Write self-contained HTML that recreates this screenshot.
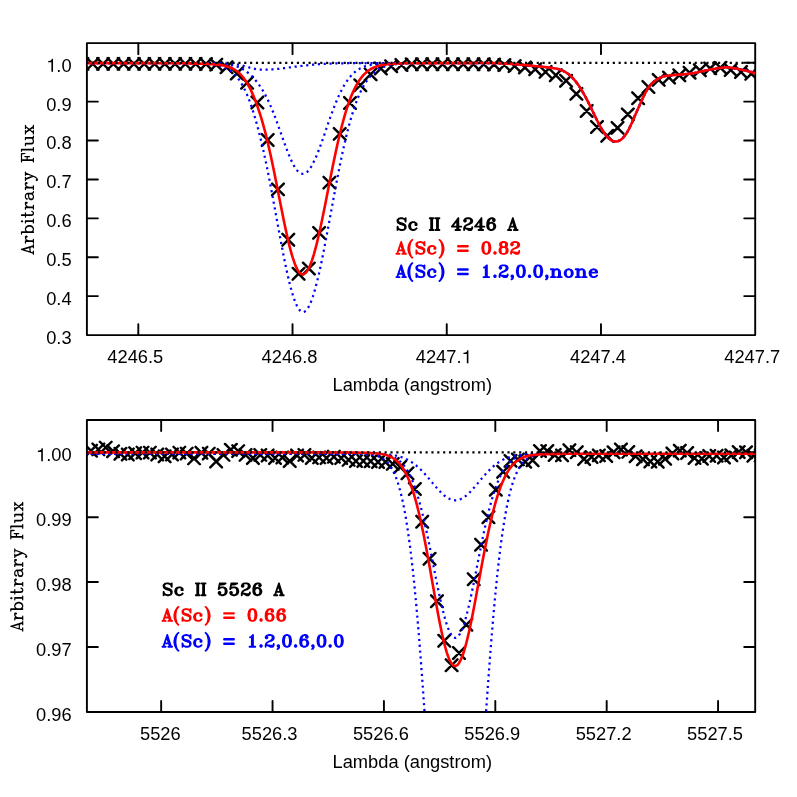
<!DOCTYPE html>
<html><head><meta charset="utf-8"><title>Sc II line fits</title>
<style>html,body{margin:0;padding:0;background:#fff}body{width:797px;height:797px;overflow:hidden}</style>
</head><body>
<svg width="797" height="797" viewBox="0 0 797 797" style="display:block;will-change:transform;font-family:'Liberation Sans',sans-serif;font-size:18.30px" fill="#000">
<rect width="797" height="797" fill="#fff"/>
<rect x="86.90" y="43.15" width="668.30" height="291.95" fill="none" stroke="#000" stroke-width="1.90" stroke-linejoin="round"/>
<path d="M138.31 335.10 V324.10 M138.31 43.15 V54.15 M292.53 335.10 V324.10 M292.53 43.15 V54.15 M446.75 335.10 V324.10 M446.75 43.15 V54.15 M600.98 335.10 V324.10 M600.98 43.15 V54.15 M86.90 296.11 H97.90 M755.20 296.11 H744.20 M86.90 257.22 H97.90 M755.20 257.22 H744.20 M86.90 218.33 H97.90 M755.20 218.33 H744.20 M86.90 179.44 H97.90 M755.20 179.44 H744.20 M86.90 140.55 H97.90 M755.20 140.55 H744.20 M86.90 101.66 H97.90 M755.20 101.66 H744.20 M86.90 62.77 H97.90 M755.20 62.77 H744.20" stroke="#000" stroke-width="1.90" stroke-linecap="round" fill="none"/>
<clipPath id="c1"><rect x="86.90" y="43.15" width="668.30" height="291.95"/></clipPath>
<g clip-path="url(#c1)">
<path d="M76.61 58.05 L88.31 69.75 M76.61 69.75 L88.31 58.05 M86.90 58.05 L98.60 69.75 M86.90 69.75 L98.60 58.05 M97.19 58.05 L108.89 69.75 M97.19 69.75 L108.89 58.05 M107.48 58.05 L119.18 69.75 M107.48 69.75 L119.18 58.05 M117.77 58.05 L129.47 69.75 M117.77 69.75 L129.47 58.05 M128.06 58.05 L139.76 69.75 M128.06 69.75 L139.76 58.05 M138.35 58.05 L150.05 69.75 M138.35 69.75 L150.05 58.05 M148.64 58.05 L160.34 69.75 M148.64 69.75 L160.34 58.05 M158.93 58.05 L170.63 69.75 M158.93 69.75 L170.63 58.05 M169.22 58.05 L180.92 69.75 M169.22 69.75 L180.92 58.05 M179.51 58.05 L191.21 69.75 M179.51 69.75 L191.21 58.05 M189.80 58.05 L201.50 69.75 M189.80 69.75 L201.50 58.05 M200.09 58.15 L211.79 69.85 M200.09 69.85 L211.79 58.15 M210.38 58.77 L222.08 70.47 M210.38 70.47 L222.08 58.77 M220.67 61.36 L232.37 73.06 M220.67 73.06 L232.37 61.36 M230.96 67.66 L242.66 79.36 M230.96 79.36 L242.66 67.66 M241.25 76.85 L252.95 88.55 M241.25 88.55 L252.95 76.85 M251.54 96.67 L263.24 108.37 M251.54 108.37 L263.24 96.67 M261.83 134.15 L273.53 145.85 M261.83 145.85 L273.53 134.15 M272.12 183.52 L283.82 195.22 M272.12 195.22 L283.82 183.52 M282.41 233.89 L294.11 245.59 M282.41 245.59 L294.11 233.89 M292.70 267.95 L304.40 279.65 M292.70 279.65 L304.40 267.95 M302.99 262.72 L314.69 274.42 M302.99 274.42 L314.69 262.72 M313.28 227.03 L324.98 238.73 M313.28 238.73 L324.98 227.03 M323.57 176.77 L335.27 188.47 M323.57 188.47 L335.27 176.77 M333.86 128.03 L345.56 139.73 M333.86 139.73 L345.56 128.03 M344.15 97.07 L355.85 108.77 M344.15 108.77 L355.85 97.07 M354.44 79.49 L366.14 91.19 M354.44 91.19 L366.14 79.49 M364.73 68.50 L376.43 80.20 M364.73 80.20 L376.43 68.50 M375.02 62.62 L386.72 74.32 M375.02 74.32 L386.72 62.62 M385.31 60.35 L397.01 72.05 M385.31 72.05 L397.01 60.35 M395.60 59.07 L407.30 70.77 M395.60 70.77 L407.30 59.07 M405.89 58.47 L417.59 70.17 M405.89 70.17 L417.59 58.47 M416.18 58.39 L427.88 70.09 M416.18 70.09 L427.88 58.39 M426.47 58.36 L438.17 70.06 M426.47 70.06 L438.17 58.36 M436.76 58.35 L448.46 70.05 M436.76 70.05 L448.46 58.35 M447.05 58.35 L458.75 70.05 M447.05 70.05 L458.75 58.35 M457.34 58.35 L469.04 70.05 M457.34 70.05 L469.04 58.35 M467.63 58.32 L479.33 70.02 M467.63 70.02 L479.33 58.32 M477.92 58.41 L489.62 70.11 M477.92 70.11 L489.62 58.41 M488.21 58.71 L499.91 70.41 M488.21 70.41 L499.91 58.71 M498.50 59.18 L510.20 70.88 M498.50 70.88 L510.20 59.18 M508.79 60.24 L520.49 71.94 M508.79 71.94 L520.49 60.24 M519.08 61.60 L530.78 73.30 M519.08 73.30 L530.78 61.60 M529.37 63.31 L541.07 75.01 M529.37 75.01 L541.07 63.31 M539.66 66.05 L551.36 77.75 M539.66 77.75 L551.36 66.05 M549.95 69.41 L561.65 81.11 M549.95 81.11 L561.65 69.41 M560.24 74.94 L571.94 86.64 M560.24 86.64 L571.94 74.94 M570.53 88.03 L582.23 99.73 M570.53 99.73 L582.23 88.03 M580.82 105.11 L592.52 116.81 M580.82 116.81 L592.52 105.11 M591.11 121.13 L602.81 132.83 M591.11 132.83 L602.81 121.13 M601.40 129.95 L613.10 141.65 M601.40 141.65 L613.10 129.95 M611.69 122.02 L623.39 133.72 M611.69 133.72 L623.39 122.02 M621.98 108.52 L633.68 120.22 M621.98 120.22 L633.68 108.52 M632.27 92.33 L643.97 104.03 M632.27 104.03 L643.97 92.33 M642.56 81.12 L654.26 92.82 M642.56 92.82 L654.26 81.12 M652.85 74.02 L664.55 85.72 M652.85 85.72 L664.55 74.02 M663.14 71.73 L674.84 83.43 M663.14 83.43 L674.84 71.73 M673.43 69.44 L685.13 81.14 M673.43 81.14 L685.13 69.44 M683.72 66.81 L695.42 78.51 M683.72 78.51 L695.42 66.81 M694.01 64.38 L705.71 76.08 M694.01 76.08 L705.71 64.38 M704.30 62.54 L716.00 74.24 M704.30 74.24 L716.00 62.54 M714.59 61.96 L726.29 73.66 M714.59 73.66 L726.29 61.96 M724.88 64.10 L736.58 75.80 M724.88 75.80 L736.58 64.10 M735.17 66.15 L746.87 77.85 M735.17 77.85 L746.87 66.15 M745.46 68.00 L757.16 79.70 M745.46 79.70 L757.16 68.00" stroke="#000" stroke-width="2.45" stroke-linecap="round" fill="none"/>
<path d="M84.9 63.1 85.9 63.1 86.9 63.1 87.9 63.1 88.9 63.1 89.9 63.1 90.9 63.1 91.9 63.1 92.9 63.1 93.9 63.1 94.9 63.1 95.9 63.1 96.9 63.1 97.9 63.1 98.9 63.1 99.9 63.1 100.9 63.1 101.9 63.1 102.9 63.1 103.9 63.1 104.9 63.1 105.9 63.1 106.9 63.1 107.9 63.1 108.9 63.1 109.9 63.1 110.9 63.1 111.9 63.1 112.9 63.1 113.9 63.1 114.9 63.1 115.9 63.1 116.9 63.1 117.9 63.1 118.9 63.1 119.9 63.1 120.9 63.1 121.9 63.1 122.9 63.1 123.9 63.1 124.9 63.1 125.9 63.1 126.9 63.1 127.9 63.1 128.9 63.1 129.9 63.1 130.9 63.1 131.9 63.1 132.9 63.1 133.9 63.1 134.9 63.1 135.9 63.1 136.9 63.1 137.9 63.1 138.9 63.1 139.9 63.1 140.9 63.1 141.9 63.1 142.9 63.1 143.9 63.1 144.9 63.1 145.9 63.1 146.9 63.1 147.9 63.1 148.9 63.1 149.9 63.1 150.9 63.1 151.9 63.1 152.9 63.1 153.9 63.1 154.9 63.1 155.9 63.1 156.9 63.2 157.9 63.2 158.9 63.2 159.9 63.2 160.9 63.2 161.9 63.2 162.9 63.2 163.9 63.2 164.9 63.2 165.9 63.2 166.9 63.2 167.9 63.2 168.9 63.2 169.9 63.2 170.9 63.2 171.9 63.2 172.9 63.2 173.9 63.2 174.9 63.2 175.9 63.2 176.9 63.2 177.9 63.3 178.9 63.3 179.9 63.3 180.9 63.3 181.9 63.3 182.9 63.3 183.9 63.3 184.9 63.3 185.9 63.4 186.9 63.4 187.9 63.4 188.9 63.4 189.9 63.4 190.9 63.4 191.9 63.5 192.9 63.5 193.9 63.5 194.9 63.5 195.9 63.6 196.9 63.6 197.9 63.6 198.9 63.7 199.9 63.7 200.9 63.8 201.9 63.8 202.9 63.9 203.9 63.9 204.9 64.0 205.9 64.1 206.9 64.1 207.9 64.2 208.9 64.3 209.9 64.4 210.9 64.5 211.9 64.6 212.9 64.7 213.9 64.9 214.9 65.0 215.9 65.2 216.9 65.4 217.9 65.6 218.9 65.8 219.9 66.1 220.9 66.3 221.9 66.7 222.9 67.0 223.9 67.4 224.9 67.8 225.9 68.2 226.9 68.7 227.9 69.2 228.9 69.8 229.9 70.5 230.9 71.2 231.9 71.9 232.9 72.8 233.9 73.7 234.9 74.7 235.9 75.7 236.9 76.9 237.9 78.1 238.9 79.5 239.9 81.0 240.9 82.5 241.9 84.2 242.9 86.0 243.9 87.9 244.9 89.9 245.9 92.1 246.9 94.4 247.9 96.8 248.9 99.3 249.9 102.0 250.9 104.8 251.9 107.7 252.9 110.8 253.9 114.0 254.9 117.3 255.9 120.8 256.9 124.4 257.9 128.1 258.9 131.9 259.9 135.9 260.9 139.9 261.9 144.1 262.9 148.4 263.9 152.9 264.9 157.5 265.9 162.2 266.9 167.0 267.9 172.0 268.9 177.0 269.9 182.1 270.9 187.4 271.9 192.7 272.9 198.0 273.9 203.5 274.9 208.9 275.9 214.4 276.9 219.9 277.9 225.3 278.9 230.8 279.9 236.2 280.9 241.6 281.9 246.9 282.9 252.1 283.9 257.2 284.9 262.1 285.9 267.0 286.9 271.6 287.9 276.1 288.9 280.4 289.9 284.5 290.9 288.3 291.9 291.9 292.9 295.3 293.9 298.4 294.9 301.1 295.9 303.6 296.9 305.8 297.9 307.7 298.9 309.2 299.9 310.5 300.9 311.3 301.9 311.9 302.9 312.1 303.9 311.9 304.9 311.4 305.9 310.7 306.9 309.5 307.9 308.1 308.9 306.4 309.9 304.3 310.9 302.0 311.9 299.4 312.9 296.5 313.9 293.3 314.9 289.9 315.9 286.2 316.9 282.3 317.9 278.2 318.9 273.9 319.9 269.5 320.9 264.8 321.9 260.0 322.9 255.1 323.9 250.0 324.9 244.8 325.9 239.6 326.9 234.2 327.9 228.8 328.9 223.4 329.9 218.0 330.9 212.5 331.9 207.1 332.9 201.6 333.9 196.2 334.9 190.9 335.9 185.6 336.9 180.3 337.9 175.2 338.9 170.1 339.9 165.1 340.9 160.3 341.9 155.5 342.9 150.9 343.9 146.4 344.9 142.0 345.9 137.7 346.9 133.6 347.9 129.7 348.9 125.8 349.9 122.2 350.9 118.6 351.9 115.2 352.9 112.0 353.9 108.9 354.9 105.9 355.9 103.1 356.9 100.5 357.9 97.9 358.9 95.5 359.9 93.2 360.9 91.1 361.9 89.0 362.9 87.1 363.9 85.3 364.9 83.6 365.9 82.1 366.9 80.6 367.9 79.2 368.9 77.9 369.9 76.7 370.9 75.6 371.9 74.5 372.9 73.6 373.9 72.7 374.9 71.9 375.9 71.1 376.9 70.4 377.9 69.7 378.9 69.1 379.9 68.6 380.9 68.1 381.9 67.6 382.9 67.2 383.9 66.8 384.9 66.5 385.9 66.1 386.9 65.8 387.9 65.6 388.9 65.3 389.9 65.1 390.9 64.9 391.9 64.7 392.9 64.6 393.9 64.4 394.9 64.3 395.9 64.2 396.9 64.1 397.9 64.0 398.9 63.9 399.9 63.8 400.9 63.7 401.9 63.7 402.9 63.6 403.9 63.5 404.9 63.5 405.9 63.5 406.9 63.4 407.9 63.4 408.9 63.4 409.9 63.3 410.9 63.3 411.9 63.3 412.9 63.3 413.9 63.3 414.9 63.2 415.9 63.2 416.9 63.2 417.9 63.2 418.9 63.2 419.9 63.2 420.9 63.2 421.9 63.2 422.9 63.2 423.9 63.2 424.9 63.2 425.9 63.2 426.9 63.1 427.9 63.1 428.9 63.1 429.9 63.1 430.9 63.1 431.9 63.1 432.9 63.1 433.9 63.1 434.9 63.1 435.9 63.1 436.9 63.1 437.9 63.1 438.9 63.1 439.9 63.1 440.9 63.1 441.9 63.1 442.9 63.1 443.9 63.1 444.9 63.1 445.9 63.1 446.9 63.1 447.9 63.1 448.9 63.1 449.9 63.1 450.9 63.1 451.9 63.1 452.9 63.1 453.9 63.1 454.9 63.1 455.9 63.1 456.9 63.1 457.9 63.1 458.9 63.1 459.9 63.1 460.9 63.1 461.9 63.1 462.9 63.1 463.9 63.1 464.9 63.1 465.9 63.1 466.9 63.1 467.9 63.1 468.9 63.1 469.9 63.1 470.9 63.1 471.9 63.1 472.9 63.1 473.9 63.0 474.9 63.0 475.9 63.0 476.9 63.0 477.9 63.0 478.9 63.0 479.9 63.0 480.9 63.0 481.9 63.0 482.9 63.0 483.9 63.0 484.9 63.0 485.9 63.0 486.9 63.0 487.9 63.0 488.9 63.0 489.9 63.0 490.9 63.1 491.9 63.1 492.9 63.1 493.9 63.1 494.9 63.1 495.9 63.2 496.9 63.2 497.9 63.2 498.9 63.3 499.9 63.3 500.9 63.4 501.9 63.4 502.9 63.4 503.9 63.5 504.9 63.5 505.9 63.6 506.9 63.7 507.9 63.7 508.9 63.8 509.9 63.8 510.9 63.9 511.9 64.0 512.9 64.0 513.9 64.1 514.9 64.2 515.9 64.3 516.9 64.4 517.9 64.4 518.9 64.5 519.9 64.6 520.9 64.7 521.9 64.8 522.9 64.9 523.9 65.0 524.9 65.1 525.9 65.2 526.9 65.3 527.9 65.4 528.9 65.5 529.9 65.6 530.9 65.7 531.9 65.8 532.9 65.9 533.9 66.0 534.9 66.1 535.9 66.2 536.9 66.3 537.9 66.4 538.9 66.5 539.9 66.6 540.9 66.7 541.9 66.7 542.9 66.8 543.9 66.9 544.9 67.0 545.9 67.1 546.9 67.2 547.9 67.4 548.9 67.5 549.9 67.6 550.9 67.7 551.9 67.9 552.9 68.0 553.9 68.2 554.9 68.4 555.9 68.6 556.9 68.8 557.9 69.0 558.9 69.3 559.9 69.6 560.9 70.0 561.9 70.4 562.9 70.8 563.9 71.3 564.9 71.8 565.9 72.4 566.9 73.0 567.9 73.7 568.9 74.5 569.9 75.3 570.9 76.2 571.9 77.1 572.9 78.2 573.9 79.3 574.9 80.5 575.9 81.7 576.9 83.0 577.9 84.4 578.9 85.9 579.9 87.4 580.9 89.0 581.9 90.6 582.9 92.3 583.9 94.1 584.9 95.9 585.9 97.7 586.9 99.7 587.9 101.6 588.9 103.6 589.9 105.6 590.9 107.6 591.9 109.7 592.9 111.8 593.9 113.8 594.9 115.9 595.9 118.0 596.9 120.0 597.9 122.0 598.9 123.9 599.9 125.8 600.9 127.6 601.9 129.3 602.9 131.0 603.9 132.5 604.9 134.0 605.9 135.3 606.9 136.5 607.9 137.5 608.9 138.5 609.9 139.3 610.9 140.0 611.9 140.5 612.9 141.0 613.9 141.2 614.9 141.4 615.9 141.5 616.9 141.4 617.9 141.2 618.9 140.8 619.9 140.3 620.9 139.7 621.9 138.9 622.9 137.9 623.9 136.8 624.9 135.6 625.9 134.2 626.9 132.6 627.9 130.9 628.9 129.1 629.9 127.1 630.9 125.0 631.9 122.8 632.9 120.5 633.9 118.2 634.9 115.8 635.9 113.5 636.9 111.2 637.9 109.0 638.9 106.8 639.9 104.5 640.9 102.3 641.9 100.1 642.9 97.9 643.9 95.8 644.9 93.7 645.9 91.8 646.9 90.1 647.9 88.5 648.9 87.1 649.9 85.8 650.9 84.7 651.9 83.6 652.9 82.7 653.9 81.8 654.9 81.0 655.9 80.3 656.9 79.6 657.9 78.9 658.9 78.4 659.9 77.8 660.9 77.4 661.9 77.0 662.9 76.6 663.9 76.3 664.9 76.1 665.9 75.9 666.9 75.7 667.9 75.6 668.9 75.5 669.9 75.4 670.9 75.3 671.9 75.2 672.9 75.1 673.9 75.1 674.9 75.0 675.9 74.9 676.9 74.8 677.9 74.8 678.9 74.7 679.9 74.6 680.9 74.5 681.9 74.4 682.9 74.4 683.9 74.3 684.9 74.2 685.9 74.1 686.9 74.0 687.9 73.9 688.9 73.8 689.9 73.6 690.9 73.5 691.9 73.4 692.9 73.2 693.9 73.1 694.9 72.9 695.9 72.7 696.9 72.5 697.9 72.3 698.9 72.0 699.9 71.8 700.9 71.6 701.9 71.3 702.9 71.1 703.9 70.9 704.9 70.6 705.9 70.4 706.9 70.2 707.9 70.0 708.9 69.8 709.9 69.6 710.9 69.4 711.9 69.2 712.9 69.0 713.9 68.9 714.9 68.7 715.9 68.6 716.9 68.4 717.9 68.3 718.9 68.1 719.9 68.0 720.9 67.8 721.9 67.7 722.9 67.6 723.9 67.5 724.9 67.4 725.9 67.4 726.9 67.4 727.9 67.5 728.9 67.5 729.9 67.6 730.9 67.8 731.9 67.9 732.9 68.1 733.9 68.2 734.9 68.4 735.9 68.6 736.9 68.8 737.9 69.0 738.9 69.2 739.9 69.4 740.9 69.6 741.9 69.8 742.9 70.1 743.9 70.3 744.9 70.5 745.9 70.7 746.9 71.0 747.9 71.2 748.9 71.4 749.9 71.7 750.9 71.9 751.9 72.2 752.9 72.4 753.9 72.7 754.9 72.9 755.9 73.2 756.9 73.5" stroke="#0000ff" stroke-width="2.25" stroke-dasharray="2.15 3.7" stroke-linejoin="round" fill="none"/>
<path d="M84.9 63.1 85.9 63.1 86.9 63.1 87.9 63.1 88.9 63.1 89.9 63.1 90.9 63.1 91.9 63.1 92.9 63.1 93.9 63.1 94.9 63.1 95.9 63.1 96.9 63.1 97.9 63.1 98.9 63.1 99.9 63.1 100.9 63.1 101.9 63.1 102.9 63.1 103.9 63.1 104.9 63.1 105.9 63.1 106.9 63.1 107.9 63.1 108.9 63.1 109.9 63.1 110.9 63.1 111.9 63.1 112.9 63.1 113.9 63.1 114.9 63.1 115.9 63.1 116.9 63.1 117.9 63.1 118.9 63.1 119.9 63.1 120.9 63.1 121.9 63.1 122.9 63.1 123.9 63.1 124.9 63.1 125.9 63.1 126.9 63.1 127.9 63.1 128.9 63.1 129.9 63.1 130.9 63.1 131.9 63.1 132.9 63.1 133.9 63.1 134.9 63.1 135.9 63.1 136.9 63.1 137.9 63.1 138.9 63.1 139.9 63.1 140.9 63.1 141.9 63.1 142.9 63.1 143.9 63.1 144.9 63.1 145.9 63.1 146.9 63.1 147.9 63.1 148.9 63.1 149.9 63.1 150.9 63.1 151.9 63.1 152.9 63.1 153.9 63.1 154.9 63.1 155.9 63.1 156.9 63.1 157.9 63.1 158.9 63.1 159.9 63.1 160.9 63.1 161.9 63.1 162.9 63.1 163.9 63.1 164.9 63.1 165.9 63.1 166.9 63.1 167.9 63.1 168.9 63.1 169.9 63.2 170.9 63.2 171.9 63.2 172.9 63.2 173.9 63.2 174.9 63.2 175.9 63.2 176.9 63.2 177.9 63.2 178.9 63.2 179.9 63.2 180.9 63.2 181.9 63.2 182.9 63.2 183.9 63.2 184.9 63.2 185.9 63.2 186.9 63.2 187.9 63.2 188.9 63.2 189.9 63.2 190.9 63.2 191.9 63.2 192.9 63.3 193.9 63.3 194.9 63.3 195.9 63.3 196.9 63.3 197.9 63.3 198.9 63.3 199.9 63.3 200.9 63.3 201.9 63.3 202.9 63.4 203.9 63.4 204.9 63.4 205.9 63.4 206.9 63.4 207.9 63.4 208.9 63.4 209.9 63.5 210.9 63.5 211.9 63.5 212.9 63.5 213.9 63.6 214.9 63.6 215.9 63.6 216.9 63.7 217.9 63.7 218.9 63.7 219.9 63.8 220.9 63.8 221.9 63.9 222.9 64.0 223.9 64.0 224.9 64.1 225.9 64.2 226.9 64.3 227.9 64.4 228.9 64.6 229.9 64.7 230.9 64.9 231.9 65.1 232.9 65.3 233.9 65.6 234.9 65.8 235.9 66.1 236.9 66.5 237.9 66.8 238.9 67.2 239.9 67.7 240.9 68.1 241.9 68.6 242.9 69.2 243.9 69.8 244.9 70.5 245.9 71.1 246.9 71.9 247.9 72.7 248.9 73.5 249.9 74.4 250.9 75.3 251.9 76.3 252.9 77.4 253.9 78.4 254.9 79.6 255.9 80.8 256.9 82.0 257.9 83.3 258.9 84.7 259.9 86.1 260.9 87.5 261.9 89.1 262.9 90.7 263.9 92.3 264.9 94.1 265.9 96.0 266.9 97.9 267.9 100.0 268.9 102.1 269.9 104.3 270.9 106.6 271.9 109.0 272.9 111.5 273.9 114.0 274.9 116.6 275.9 119.3 276.9 122.0 277.9 124.8 278.9 127.6 279.9 130.4 280.9 133.2 281.9 136.1 282.9 138.9 283.9 141.7 284.9 144.5 285.9 147.2 286.9 149.8 287.9 152.4 288.9 154.9 289.9 157.3 290.9 159.6 291.9 161.7 292.9 163.8 293.9 165.6 294.9 167.3 295.9 168.8 296.9 170.1 297.9 171.3 298.9 172.2 299.9 172.9 300.9 173.4 301.9 173.7 302.9 173.8 303.9 173.7 304.9 173.3 305.9 172.8 306.9 172.1 307.9 171.1 308.9 170.0 309.9 168.6 310.9 167.1 311.9 165.5 312.9 163.6 313.9 161.6 314.9 159.5 315.9 157.3 316.9 154.9 317.9 152.4 318.9 149.8 319.9 147.1 320.9 144.4 321.9 141.6 322.9 138.7 323.9 135.9 324.9 133.0 325.9 130.0 326.9 127.1 327.9 124.2 328.9 121.4 329.9 118.5 330.9 115.7 331.9 113.0 332.9 110.3 333.9 107.6 334.9 105.1 335.9 102.6 336.9 100.2 337.9 97.9 338.9 95.6 339.9 93.5 340.9 91.4 341.9 89.5 342.9 87.6 343.9 85.8 344.9 84.2 345.9 82.6 346.9 81.1 347.9 79.7 348.9 78.3 349.9 77.1 350.9 75.9 351.9 74.8 352.9 73.8 353.9 72.9 354.9 72.0 355.9 71.2 356.9 70.5 357.9 69.8 358.9 69.2 359.9 68.6 360.9 68.1 361.9 67.6 362.9 67.2 363.9 66.8 364.9 66.4 365.9 66.1 366.9 65.8 367.9 65.5 368.9 65.3 369.9 65.1 370.9 64.9 371.9 64.7 372.9 64.5 373.9 64.4 374.9 64.3 375.9 64.1 376.9 64.0 377.9 63.9 378.9 63.9 379.9 63.8 380.9 63.7 381.9 63.7 382.9 63.6 383.9 63.6 384.9 63.5 385.9 63.5 386.9 63.4 387.9 63.4 388.9 63.4 389.9 63.4 390.9 63.3 391.9 63.3 392.9 63.3 393.9 63.3 394.9 63.3 395.9 63.3 396.9 63.2 397.9 63.2 398.9 63.2 399.9 63.2 400.9 63.2 401.9 63.2 402.9 63.2 403.9 63.2 404.9 63.2 405.9 63.2 406.9 63.2 407.9 63.2 408.9 63.2 409.9 63.2 410.9 63.2 411.9 63.2 412.9 63.2 413.9 63.1 414.9 63.1 415.9 63.1 416.9 63.1 417.9 63.1 418.9 63.1 419.9 63.1 420.9 63.1 421.9 63.1 422.9 63.1 423.9 63.1 424.9 63.1 425.9 63.1 426.9 63.1 427.9 63.1 428.9 63.1 429.9 63.1 430.9 63.1 431.9 63.1 432.9 63.1 433.9 63.1 434.9 63.1 435.9 63.1 436.9 63.1 437.9 63.1 438.9 63.1 439.9 63.1 440.9 63.1 441.9 63.1 442.9 63.1 443.9 63.1 444.9 63.1 445.9 63.1 446.9 63.1 447.9 63.1 448.9 63.1 449.9 63.1 450.9 63.1 451.9 63.1 452.9 63.1 453.9 63.1 454.9 63.1 455.9 63.1 456.9 63.1 457.9 63.1 458.9 63.1 459.9 63.1 460.9 63.1 461.9 63.1 462.9 63.1 463.9 63.1 464.9 63.1 465.9 63.1 466.9 63.1 467.9 63.1 468.9 63.1 469.9 63.1 470.9 63.1 471.9 63.1 472.9 63.1 473.9 63.0 474.9 63.0 475.9 63.0 476.9 63.0 477.9 63.0 478.9 63.0 479.9 63.0 480.9 63.0 481.9 63.0 482.9 63.0 483.9 63.0 484.9 63.0 485.9 63.0 486.9 63.0 487.9 63.0 488.9 63.0 489.9 63.0 490.9 63.1 491.9 63.1 492.9 63.1 493.9 63.1 494.9 63.1 495.9 63.2 496.9 63.2 497.9 63.2 498.9 63.3 499.9 63.3 500.9 63.4 501.9 63.4 502.9 63.4 503.9 63.5 504.9 63.5 505.9 63.6 506.9 63.7 507.9 63.7 508.9 63.8 509.9 63.8 510.9 63.9 511.9 64.0 512.9 64.0 513.9 64.1 514.9 64.2 515.9 64.3 516.9 64.4 517.9 64.4 518.9 64.5 519.9 64.6 520.9 64.7 521.9 64.8 522.9 64.9 523.9 65.0 524.9 65.1 525.9 65.2 526.9 65.3 527.9 65.4 528.9 65.5 529.9 65.6 530.9 65.7 531.9 65.8 532.9 65.9 533.9 66.0 534.9 66.1 535.9 66.2 536.9 66.3 537.9 66.4 538.9 66.5 539.9 66.6 540.9 66.7 541.9 66.7 542.9 66.8 543.9 66.9 544.9 67.0 545.9 67.1 546.9 67.2 547.9 67.4 548.9 67.5 549.9 67.6 550.9 67.7 551.9 67.9 552.9 68.0 553.9 68.2 554.9 68.4 555.9 68.6 556.9 68.8 557.9 69.0 558.9 69.3 559.9 69.6 560.9 70.0 561.9 70.4 562.9 70.8 563.9 71.3 564.9 71.8 565.9 72.4 566.9 73.0 567.9 73.7 568.9 74.5 569.9 75.3 570.9 76.2 571.9 77.1 572.9 78.2 573.9 79.3 574.9 80.5 575.9 81.7 576.9 83.0 577.9 84.4 578.9 85.9 579.9 87.4 580.9 89.0 581.9 90.6 582.9 92.3 583.9 94.1 584.9 95.9 585.9 97.7 586.9 99.7 587.9 101.6 588.9 103.6 589.9 105.6 590.9 107.6 591.9 109.7 592.9 111.8 593.9 113.8 594.9 115.9 595.9 118.0 596.9 120.0 597.9 122.0 598.9 123.9 599.9 125.8 600.9 127.6 601.9 129.3 602.9 131.0 603.9 132.5 604.9 134.0 605.9 135.3 606.9 136.5 607.9 137.5 608.9 138.5 609.9 139.3 610.9 140.0 611.9 140.5 612.9 141.0 613.9 141.2 614.9 141.4 615.9 141.5 616.9 141.4 617.9 141.2 618.9 140.8 619.9 140.3 620.9 139.7 621.9 138.9 622.9 137.9 623.9 136.8 624.9 135.6 625.9 134.2 626.9 132.6 627.9 130.9 628.9 129.1 629.9 127.1 630.9 125.0 631.9 122.8 632.9 120.5 633.9 118.2 634.9 115.8 635.9 113.5 636.9 111.2 637.9 109.0 638.9 106.8 639.9 104.5 640.9 102.3 641.9 100.1 642.9 97.9 643.9 95.8 644.9 93.7 645.9 91.8 646.9 90.1 647.9 88.5 648.9 87.1 649.9 85.8 650.9 84.7 651.9 83.6 652.9 82.7 653.9 81.8 654.9 81.0 655.9 80.3 656.9 79.6 657.9 78.9 658.9 78.4 659.9 77.8 660.9 77.4 661.9 77.0 662.9 76.6 663.9 76.3 664.9 76.1 665.9 75.9 666.9 75.7 667.9 75.6 668.9 75.5 669.9 75.4 670.9 75.3 671.9 75.2 672.9 75.1 673.9 75.1 674.9 75.0 675.9 74.9 676.9 74.8 677.9 74.8 678.9 74.7 679.9 74.6 680.9 74.5 681.9 74.4 682.9 74.4 683.9 74.3 684.9 74.2 685.9 74.1 686.9 74.0 687.9 73.9 688.9 73.8 689.9 73.6 690.9 73.5 691.9 73.4 692.9 73.2 693.9 73.1 694.9 72.9 695.9 72.7 696.9 72.5 697.9 72.3 698.9 72.0 699.9 71.8 700.9 71.6 701.9 71.3 702.9 71.1 703.9 70.9 704.9 70.6 705.9 70.4 706.9 70.2 707.9 70.0 708.9 69.8 709.9 69.6 710.9 69.4 711.9 69.2 712.9 69.0 713.9 68.9 714.9 68.7 715.9 68.6 716.9 68.4 717.9 68.3 718.9 68.1 719.9 68.0 720.9 67.8 721.9 67.7 722.9 67.6 723.9 67.5 724.9 67.4 725.9 67.4 726.9 67.4 727.9 67.5 728.9 67.5 729.9 67.6 730.9 67.8 731.9 67.9 732.9 68.1 733.9 68.2 734.9 68.4 735.9 68.6 736.9 68.8 737.9 69.0 738.9 69.2 739.9 69.4 740.9 69.6 741.9 69.8 742.9 70.1 743.9 70.3 744.9 70.5 745.9 70.7 746.9 71.0 747.9 71.2 748.9 71.4 749.9 71.7 750.9 71.9 751.9 72.2 752.9 72.4 753.9 72.7 754.9 72.9 755.9 73.2 756.9 73.5" stroke="#0000ff" stroke-width="2.25" stroke-dasharray="2.15 3.7" stroke-linejoin="round" fill="none"/>
<path d="M84.9 63.1 85.9 63.1 86.9 63.1 87.9 63.1 88.9 63.1 89.9 63.1 90.9 63.1 91.9 63.1 92.9 63.1 93.9 63.1 94.9 63.1 95.9 63.1 96.9 63.1 97.9 63.1 98.9 63.1 99.9 63.1 100.9 63.1 101.9 63.1 102.9 63.1 103.9 63.1 104.9 63.1 105.9 63.1 106.9 63.1 107.9 63.1 108.9 63.1 109.9 63.1 110.9 63.1 111.9 63.1 112.9 63.1 113.9 63.1 114.9 63.1 115.9 63.1 116.9 63.1 117.9 63.1 118.9 63.1 119.9 63.1 120.9 63.1 121.9 63.1 122.9 63.1 123.9 63.1 124.9 63.1 125.9 63.1 126.9 63.1 127.9 63.1 128.9 63.1 129.9 63.1 130.9 63.1 131.9 63.1 132.9 63.1 133.9 63.1 134.9 63.1 135.9 63.1 136.9 63.1 137.9 63.1 138.9 63.1 139.9 63.1 140.9 63.1 141.9 63.1 142.9 63.1 143.9 63.1 144.9 63.1 145.9 63.1 146.9 63.1 147.9 63.1 148.9 63.1 149.9 63.1 150.9 63.1 151.9 63.1 152.9 63.1 153.9 63.1 154.9 63.1 155.9 63.1 156.9 63.1 157.9 63.1 158.9 63.1 159.9 63.1 160.9 63.1 161.9 63.1 162.9 63.1 163.9 63.1 164.9 63.1 165.9 63.1 166.9 63.1 167.9 63.1 168.9 63.1 169.9 63.1 170.9 63.1 171.9 63.1 172.9 63.1 173.9 63.1 174.9 63.1 175.9 63.1 176.9 63.1 177.9 63.1 178.9 63.1 179.9 63.1 180.9 63.1 181.9 63.1 182.9 63.1 183.9 63.1 184.9 63.1 185.9 63.1 186.9 63.1 187.9 63.1 188.9 63.1 189.9 63.1 190.9 63.1 191.9 63.1 192.9 63.1 193.9 63.1 194.9 63.1 195.9 63.1 196.9 63.1 197.9 63.1 198.9 63.1 199.9 63.1 200.9 63.1 201.9 63.1 202.9 63.1 203.9 63.1 204.9 63.1 205.9 63.1 206.9 63.1 207.9 63.1 208.9 63.1 209.9 63.1 210.9 63.1 211.9 63.1 212.9 63.1 213.9 63.1 214.9 63.1 215.9 63.1 216.9 63.2 217.9 63.2 218.9 63.2 219.9 63.2 220.9 63.2 221.9 63.2 222.9 63.3 223.9 63.3 224.9 63.3 225.9 63.4 226.9 63.4 227.9 63.5 228.9 63.5 229.9 63.6 230.9 63.7 231.9 63.8 232.9 63.9 233.9 64.0 234.9 64.1 235.9 64.3 236.9 64.4 237.9 64.6 238.9 64.8 239.9 65.0 240.9 65.2 241.9 65.5 242.9 65.7 243.9 66.0 244.9 66.3 245.9 66.5 246.9 66.8 247.9 67.1 248.9 67.4 249.9 67.7 250.9 67.9 251.9 68.2 252.9 68.5 253.9 68.7 254.9 68.9 255.9 69.1 256.9 69.3 257.9 69.5 258.9 69.6 259.9 69.7 260.9 69.7 261.9 69.7 262.9 69.7 263.9 69.7 264.9 69.7 265.9 69.7 266.9 69.6 267.9 69.6 268.9 69.6 269.9 69.5 270.9 69.4 271.9 69.4 272.9 69.3 273.9 69.2 274.9 69.1 275.9 69.1 276.9 69.0 277.9 68.9 278.9 68.8 279.9 68.7 280.9 68.5 281.9 68.4 282.9 68.3 283.9 68.2 284.9 68.1 285.9 67.9 286.9 67.8 287.9 67.7 288.9 67.5 289.9 67.4 290.9 67.3 291.9 67.1 292.9 67.0 293.9 66.9 294.9 66.7 295.9 66.6 296.9 66.5 297.9 66.4 298.9 66.2 299.9 66.1 300.9 66.0 301.9 65.9 302.9 65.7 303.9 65.6 304.9 65.5 305.9 65.4 306.9 65.3 307.9 65.2 308.9 65.1 309.9 65.0 310.9 64.9 311.9 64.8 312.9 64.7 313.9 64.6 314.9 64.5 315.9 64.4 316.9 64.4 317.9 64.3 318.9 64.2 319.9 64.1 320.9 64.1 321.9 64.0 322.9 64.0 323.9 63.9 324.9 63.9 325.9 63.8 326.9 63.8 327.9 63.7 328.9 63.7 329.9 63.6 330.9 63.6 331.9 63.6 332.9 63.5 333.9 63.5 334.9 63.5 335.9 63.4 336.9 63.4 337.9 63.4 338.9 63.4 339.9 63.3 340.9 63.3 341.9 63.3 342.9 63.3 343.9 63.3 344.9 63.3 345.9 63.3 346.9 63.2 347.9 63.2 348.9 63.2 349.9 63.2 350.9 63.2 351.9 63.2 352.9 63.2 353.9 63.2 354.9 63.2 355.9 63.2 356.9 63.2 357.9 63.2 358.9 63.2 359.9 63.2 360.9 63.1 361.9 63.1 362.9 63.1 363.9 63.1 364.9 63.1 365.9 63.1 366.9 63.1 367.9 63.1 368.9 63.1 369.9 63.1 370.9 63.1 371.9 63.1 372.9 63.1 373.9 63.1 374.9 63.1 375.9 63.1 376.9 63.1 377.9 63.1 378.9 63.1 379.9 63.1 380.9 63.1 381.9 63.1 382.9 63.1 383.9 63.1 384.9 63.1 385.9 63.1 386.9 63.1 387.9 63.1 388.9 63.1 389.9 63.1 390.9 63.1 391.9 63.1 392.9 63.1 393.9 63.1 394.9 63.1 395.9 63.1 396.9 63.1 397.9 63.1 398.9 63.1 399.9 63.1 400.9 63.1 401.9 63.1 402.9 63.1 403.9 63.1 404.9 63.1 405.9 63.1 406.9 63.1 407.9 63.1 408.9 63.1 409.9 63.1 410.9 63.1 411.9 63.1 412.9 63.1 413.9 63.1 414.9 63.1 415.9 63.1 416.9 63.1 417.9 63.1 418.9 63.1 419.9 63.1 420.9 63.1 421.9 63.1 422.9 63.1 423.9 63.1 424.9 63.1 425.9 63.1 426.9 63.1 427.9 63.1 428.9 63.1 429.9 63.1 430.9 63.1 431.9 63.1 432.9 63.1 433.9 63.1 434.9 63.1 435.9 63.1 436.9 63.1 437.9 63.1 438.9 63.1 439.9 63.1 440.9 63.1 441.9 63.1 442.9 63.1 443.9 63.1 444.9 63.1 445.9 63.1 446.9 63.1 447.9 63.1 448.9 63.1 449.9 63.1 450.9 63.1 451.9 63.1 452.9 63.1 453.9 63.1 454.9 63.1 455.9 63.1 456.9 63.1 457.9 63.1 458.9 63.1 459.9 63.1 460.9 63.1 461.9 63.1 462.9 63.1 463.9 63.1 464.9 63.1 465.9 63.1 466.9 63.1 467.9 63.1 468.9 63.1 469.9 63.1 470.9 63.1 471.9 63.1 472.9 63.1 473.9 63.0 474.9 63.0 475.9 63.0 476.9 63.0 477.9 63.0 478.9 63.0 479.9 63.0 480.9 63.0 481.9 63.0 482.9 63.0 483.9 63.0 484.9 63.0 485.9 63.0 486.9 63.0 487.9 63.0 488.9 63.0 489.9 63.0 490.9 63.1 491.9 63.1 492.9 63.1 493.9 63.1 494.9 63.1 495.9 63.2 496.9 63.2 497.9 63.2 498.9 63.3 499.9 63.3 500.9 63.4 501.9 63.4 502.9 63.4 503.9 63.5 504.9 63.5 505.9 63.6 506.9 63.7 507.9 63.7 508.9 63.8 509.9 63.8 510.9 63.9 511.9 64.0 512.9 64.0 513.9 64.1 514.9 64.2 515.9 64.3 516.9 64.4 517.9 64.4 518.9 64.5 519.9 64.6 520.9 64.7 521.9 64.8 522.9 64.9 523.9 65.0 524.9 65.1 525.9 65.2 526.9 65.3 527.9 65.4 528.9 65.5 529.9 65.6 530.9 65.7 531.9 65.8 532.9 65.9 533.9 66.0 534.9 66.1 535.9 66.2 536.9 66.3 537.9 66.4 538.9 66.5 539.9 66.6 540.9 66.7 541.9 66.7 542.9 66.8 543.9 66.9 544.9 67.0 545.9 67.1 546.9 67.2 547.9 67.4 548.9 67.5 549.9 67.6 550.9 67.7 551.9 67.9 552.9 68.0 553.9 68.2 554.9 68.4 555.9 68.6 556.9 68.8 557.9 69.0 558.9 69.3 559.9 69.6 560.9 70.0 561.9 70.4 562.9 70.8 563.9 71.3 564.9 71.8 565.9 72.4 566.9 73.0 567.9 73.7 568.9 74.5 569.9 75.3 570.9 76.2 571.9 77.1 572.9 78.2 573.9 79.3 574.9 80.5 575.9 81.7 576.9 83.0 577.9 84.4 578.9 85.9 579.9 87.4 580.9 89.0 581.9 90.6 582.9 92.3 583.9 94.1 584.9 95.9 585.9 97.7 586.9 99.7 587.9 101.6 588.9 103.6 589.9 105.6 590.9 107.6 591.9 109.7 592.9 111.8 593.9 113.8 594.9 115.9 595.9 118.0 596.9 120.0 597.9 122.0 598.9 123.9 599.9 125.8 600.9 127.6 601.9 129.3 602.9 131.0 603.9 132.5 604.9 134.0 605.9 135.3 606.9 136.5 607.9 137.5 608.9 138.5 609.9 139.3 610.9 140.0 611.9 140.5 612.9 141.0 613.9 141.2 614.9 141.4 615.9 141.5 616.9 141.4 617.9 141.2 618.9 140.8 619.9 140.3 620.9 139.7 621.9 138.9 622.9 137.9 623.9 136.8 624.9 135.6 625.9 134.2 626.9 132.6 627.9 130.9 628.9 129.1 629.9 127.1 630.9 125.0 631.9 122.8 632.9 120.5 633.9 118.2 634.9 115.8 635.9 113.5 636.9 111.2 637.9 109.0 638.9 106.8 639.9 104.5 640.9 102.3 641.9 100.1 642.9 97.9 643.9 95.8 644.9 93.7 645.9 91.8 646.9 90.1 647.9 88.5 648.9 87.1 649.9 85.8 650.9 84.7 651.9 83.6 652.9 82.7 653.9 81.8 654.9 81.0 655.9 80.3 656.9 79.6 657.9 78.9 658.9 78.4 659.9 77.8 660.9 77.4 661.9 77.0 662.9 76.6 663.9 76.3 664.9 76.1 665.9 75.9 666.9 75.7 667.9 75.6 668.9 75.5 669.9 75.4 670.9 75.3 671.9 75.2 672.9 75.1 673.9 75.1 674.9 75.0 675.9 74.9 676.9 74.8 677.9 74.8 678.9 74.7 679.9 74.6 680.9 74.5 681.9 74.4 682.9 74.4 683.9 74.3 684.9 74.2 685.9 74.1 686.9 74.0 687.9 73.9 688.9 73.8 689.9 73.6 690.9 73.5 691.9 73.4 692.9 73.2 693.9 73.1 694.9 72.9 695.9 72.7 696.9 72.5 697.9 72.3 698.9 72.0 699.9 71.8 700.9 71.6 701.9 71.3 702.9 71.1 703.9 70.9 704.9 70.6 705.9 70.4 706.9 70.2 707.9 70.0 708.9 69.8 709.9 69.6 710.9 69.4 711.9 69.2 712.9 69.0 713.9 68.9 714.9 68.7 715.9 68.6 716.9 68.4 717.9 68.3 718.9 68.1 719.9 68.0 720.9 67.8 721.9 67.7 722.9 67.6 723.9 67.5 724.9 67.4 725.9 67.4 726.9 67.4 727.9 67.5 728.9 67.5 729.9 67.6 730.9 67.8 731.9 67.9 732.9 68.1 733.9 68.2 734.9 68.4 735.9 68.6 736.9 68.8 737.9 69.0 738.9 69.2 739.9 69.4 740.9 69.6 741.9 69.8 742.9 70.1 743.9 70.3 744.9 70.5 745.9 70.7 746.9 71.0 747.9 71.2 748.9 71.4 749.9 71.7 750.9 71.9 751.9 72.2 752.9 72.4 753.9 72.7 754.9 72.9 755.9 73.2 756.9 73.5" stroke="#0000ff" stroke-width="2.25" stroke-dasharray="2.15 3.7" stroke-linejoin="round" fill="none"/>
<path d="M84.9 63.1 85.9 63.1 86.9 63.1 87.9 63.1 88.9 63.1 89.9 63.1 90.9 63.1 91.9 63.1 92.9 63.1 93.9 63.1 94.9 63.1 95.9 63.1 96.9 63.1 97.9 63.1 98.9 63.1 99.9 63.1 100.9 63.1 101.9 63.1 102.9 63.1 103.9 63.1 104.9 63.1 105.9 63.1 106.9 63.1 107.9 63.1 108.9 63.1 109.9 63.1 110.9 63.1 111.9 63.1 112.9 63.1 113.9 63.1 114.9 63.1 115.9 63.1 116.9 63.1 117.9 63.1 118.9 63.1 119.9 63.1 120.9 63.1 121.9 63.1 122.9 63.1 123.9 63.1 124.9 63.1 125.9 63.1 126.9 63.1 127.9 63.1 128.9 63.1 129.9 63.1 130.9 63.1 131.9 63.1 132.9 63.1 133.9 63.1 134.9 63.1 135.9 63.1 136.9 63.1 137.9 63.1 138.9 63.1 139.9 63.1 140.9 63.1 141.9 63.1 142.9 63.1 143.9 63.1 144.9 63.1 145.9 63.1 146.9 63.1 147.9 63.1 148.9 63.1 149.9 63.1 150.9 63.1 151.9 63.1 152.9 63.1 153.9 63.1 154.9 63.1 155.9 63.1 156.9 63.2 157.9 63.2 158.9 63.2 159.9 63.2 160.9 63.2 161.9 63.2 162.9 63.2 163.9 63.2 164.9 63.2 165.9 63.2 166.9 63.2 167.9 63.2 168.9 63.2 169.9 63.2 170.9 63.2 171.9 63.2 172.9 63.2 173.9 63.2 174.9 63.2 175.9 63.2 176.9 63.2 177.9 63.3 178.9 63.3 179.9 63.3 180.9 63.3 181.9 63.3 182.9 63.3 183.9 63.3 184.9 63.3 185.9 63.3 186.9 63.4 187.9 63.4 188.9 63.4 189.9 63.4 190.9 63.4 191.9 63.4 192.9 63.5 193.9 63.5 194.9 63.5 195.9 63.5 196.9 63.6 197.9 63.6 198.9 63.6 199.9 63.6 200.9 63.7 201.9 63.7 202.9 63.7 203.9 63.8 204.9 63.8 205.9 63.9 206.9 63.9 207.9 63.9 208.9 64.0 209.9 64.1 210.9 64.1 211.9 64.2 212.9 64.2 213.9 64.3 214.9 64.4 215.9 64.5 216.9 64.6 217.9 64.7 218.9 64.8 219.9 65.0 220.9 65.1 221.9 65.3 222.9 65.4 223.9 65.6 224.9 65.9 225.9 66.1 226.9 66.4 227.9 66.7 228.9 67.0 229.9 67.4 230.9 67.8 231.9 68.2 232.9 68.7 233.9 69.3 234.9 69.9 235.9 70.5 236.9 71.3 237.9 72.0 238.9 72.9 239.9 73.8 240.9 74.9 241.9 76.0 242.9 77.1 243.9 78.4 244.9 79.8 245.9 81.3 246.9 82.9 247.9 84.5 248.9 86.3 249.9 88.2 250.9 90.2 251.9 92.4 252.9 94.6 253.9 97.0 254.9 99.4 255.9 102.0 256.9 104.7 257.9 107.6 258.9 110.6 259.9 113.6 260.9 116.8 261.9 120.2 262.9 123.7 263.9 127.3 264.9 131.0 265.9 134.9 266.9 139.0 267.9 143.2 268.9 147.5 269.9 152.0 270.9 156.5 271.9 161.2 272.9 166.0 273.9 170.8 274.9 175.7 275.9 180.7 276.9 185.8 277.9 190.8 278.9 195.9 279.9 201.0 280.9 206.1 281.9 211.1 282.9 216.1 283.9 221.0 284.9 225.8 285.9 230.4 286.9 235.0 287.9 239.4 288.9 243.6 289.9 247.6 290.9 251.3 291.9 254.9 292.9 258.2 293.9 261.2 294.9 264.0 295.9 266.4 296.9 268.6 297.9 270.4 298.9 271.9 299.9 273.0 300.9 273.8 301.9 274.3 302.9 274.4 303.9 274.1 304.9 273.5 305.9 272.6 306.9 271.4 307.9 269.8 308.9 268.0 309.9 265.8 310.9 263.3 311.9 260.6 312.9 257.5 313.9 254.3 314.9 250.7 315.9 247.0 316.9 243.0 317.9 238.9 318.9 234.5 319.9 230.1 320.9 225.4 321.9 220.7 322.9 215.8 323.9 210.9 324.9 205.9 325.9 200.9 326.9 195.8 327.9 190.7 328.9 185.6 329.9 180.5 330.9 175.5 331.9 170.5 332.9 165.6 333.9 160.7 334.9 156.0 335.9 151.3 336.9 146.7 337.9 142.3 338.9 138.0 339.9 133.8 340.9 129.7 341.9 125.8 342.9 122.0 343.9 118.4 344.9 114.9 345.9 111.5 346.9 108.3 347.9 105.3 348.9 102.4 349.9 99.7 350.9 97.0 351.9 94.6 352.9 92.3 353.9 90.1 354.9 88.0 355.9 86.1 356.9 84.3 357.9 82.6 358.9 81.0 359.9 79.5 360.9 78.2 361.9 76.9 362.9 75.7 363.9 74.6 364.9 73.6 365.9 72.7 366.9 71.8 367.9 71.0 368.9 70.3 369.9 69.6 370.9 69.0 371.9 68.5 372.9 68.0 373.9 67.5 374.9 67.1 375.9 66.7 376.9 66.4 377.9 66.0 378.9 65.8 379.9 65.5 380.9 65.3 381.9 65.0 382.9 64.9 383.9 64.7 384.9 64.5 385.9 64.4 386.9 64.3 387.9 64.1 388.9 64.0 389.9 64.0 390.9 63.9 391.9 63.8 392.9 63.7 393.9 63.7 394.9 63.6 395.9 63.6 396.9 63.5 397.9 63.5 398.9 63.5 399.9 63.4 400.9 63.4 401.9 63.4 402.9 63.3 403.9 63.3 404.9 63.3 405.9 63.3 406.9 63.3 407.9 63.3 408.9 63.2 409.9 63.2 410.9 63.2 411.9 63.2 412.9 63.2 413.9 63.2 414.9 63.2 415.9 63.2 416.9 63.2 417.9 63.2 418.9 63.2 419.9 63.2 420.9 63.2 421.9 63.2 422.9 63.2 423.9 63.1 424.9 63.1 425.9 63.1 426.9 63.1 427.9 63.1 428.9 63.1 429.9 63.1 430.9 63.1 431.9 63.1 432.9 63.1 433.9 63.1 434.9 63.1 435.9 63.1 436.9 63.1 437.9 63.1 438.9 63.1 439.9 63.1 440.9 63.1 441.9 63.1 442.9 63.1 443.9 63.1 444.9 63.1 445.9 63.1 446.9 63.1 447.9 63.1 448.9 63.1 449.9 63.1 450.9 63.1 451.9 63.1 452.9 63.1 453.9 63.1 454.9 63.1 455.9 63.1 456.9 63.1 457.9 63.1 458.9 63.1 459.9 63.1 460.9 63.1 461.9 63.1 462.9 63.1 463.9 63.1 464.9 63.1 465.9 63.1 466.9 63.1 467.9 63.1 468.9 63.1 469.9 63.1 470.9 63.1 471.9 63.1 472.9 63.1 473.9 63.0 474.9 63.0 475.9 63.0 476.9 63.0 477.9 63.0 478.9 63.0 479.9 63.0 480.9 63.0 481.9 63.0 482.9 63.0 483.9 63.0 484.9 63.0 485.9 63.0 486.9 63.0 487.9 63.0 488.9 63.0 489.9 63.0 490.9 63.1 491.9 63.1 492.9 63.1 493.9 63.1 494.9 63.1 495.9 63.2 496.9 63.2 497.9 63.2 498.9 63.3 499.9 63.3 500.9 63.4 501.9 63.4 502.9 63.4 503.9 63.5 504.9 63.5 505.9 63.6 506.9 63.7 507.9 63.7 508.9 63.8 509.9 63.8 510.9 63.9 511.9 64.0 512.9 64.0 513.9 64.1 514.9 64.2 515.9 64.3 516.9 64.4 517.9 64.4 518.9 64.5 519.9 64.6 520.9 64.7 521.9 64.8 522.9 64.9 523.9 65.0 524.9 65.1 525.9 65.2 526.9 65.3 527.9 65.4 528.9 65.5 529.9 65.6 530.9 65.7 531.9 65.8 532.9 65.9 533.9 66.0 534.9 66.1 535.9 66.2 536.9 66.3 537.9 66.4 538.9 66.5 539.9 66.6 540.9 66.7 541.9 66.7 542.9 66.8 543.9 66.9 544.9 67.0 545.9 67.1 546.9 67.2 547.9 67.4 548.9 67.5 549.9 67.6 550.9 67.7 551.9 67.9 552.9 68.0 553.9 68.2 554.9 68.4 555.9 68.6 556.9 68.8 557.9 69.0 558.9 69.3 559.9 69.6 560.9 70.0 561.9 70.4 562.9 70.8 563.9 71.3 564.9 71.8 565.9 72.4 566.9 73.0 567.9 73.7 568.9 74.5 569.9 75.3 570.9 76.2 571.9 77.1 572.9 78.2 573.9 79.3 574.9 80.5 575.9 81.7 576.9 83.0 577.9 84.4 578.9 85.9 579.9 87.4 580.9 89.0 581.9 90.6 582.9 92.3 583.9 94.1 584.9 95.9 585.9 97.7 586.9 99.7 587.9 101.6 588.9 103.6 589.9 105.6 590.9 107.6 591.9 109.7 592.9 111.8 593.9 113.8 594.9 115.9 595.9 118.0 596.9 120.0 597.9 122.0 598.9 123.9 599.9 125.8 600.9 127.6 601.9 129.3 602.9 131.0 603.9 132.5 604.9 134.0 605.9 135.3 606.9 136.5 607.9 137.5 608.9 138.5 609.9 139.3 610.9 140.0 611.9 140.5 612.9 141.0 613.9 141.2 614.9 141.4 615.9 141.5 616.9 141.4 617.9 141.2 618.9 140.8 619.9 140.3 620.9 139.7 621.9 138.9 622.9 137.9 623.9 136.8 624.9 135.6 625.9 134.2 626.9 132.6 627.9 130.9 628.9 129.1 629.9 127.1 630.9 125.0 631.9 122.8 632.9 120.5 633.9 118.2 634.9 115.8 635.9 113.5 636.9 111.2 637.9 109.0 638.9 106.8 639.9 104.5 640.9 102.3 641.9 100.1 642.9 97.9 643.9 95.8 644.9 93.7 645.9 91.8 646.9 90.1 647.9 88.5 648.9 87.1 649.9 85.8 650.9 84.7 651.9 83.6 652.9 82.7 653.9 81.8 654.9 81.0 655.9 80.3 656.9 79.6 657.9 78.9 658.9 78.4 659.9 77.8 660.9 77.4 661.9 77.0 662.9 76.6 663.9 76.3 664.9 76.1 665.9 75.9 666.9 75.7 667.9 75.6 668.9 75.5 669.9 75.4 670.9 75.3 671.9 75.2 672.9 75.1 673.9 75.1 674.9 75.0 675.9 74.9 676.9 74.8 677.9 74.8 678.9 74.7 679.9 74.6 680.9 74.5 681.9 74.4 682.9 74.4 683.9 74.3 684.9 74.2 685.9 74.1 686.9 74.0 687.9 73.9 688.9 73.8 689.9 73.6 690.9 73.5 691.9 73.4 692.9 73.2 693.9 73.1 694.9 72.9 695.9 72.7 696.9 72.5 697.9 72.3 698.9 72.0 699.9 71.8 700.9 71.6 701.9 71.3 702.9 71.1 703.9 70.9 704.9 70.6 705.9 70.4 706.9 70.2 707.9 70.0 708.9 69.8 709.9 69.6 710.9 69.4 711.9 69.2 712.9 69.0 713.9 68.9 714.9 68.7 715.9 68.6 716.9 68.4 717.9 68.3 718.9 68.1 719.9 68.0 720.9 67.8 721.9 67.7 722.9 67.6 723.9 67.5 724.9 67.4 725.9 67.4 726.9 67.4 727.9 67.5 728.9 67.5 729.9 67.6 730.9 67.8 731.9 67.9 732.9 68.1 733.9 68.2 734.9 68.4 735.9 68.6 736.9 68.8 737.9 69.0 738.9 69.2 739.9 69.4 740.9 69.6 741.9 69.8 742.9 70.1 743.9 70.3 744.9 70.5 745.9 70.7 746.9 71.0 747.9 71.2 748.9 71.4 749.9 71.7 750.9 71.9 751.9 72.2 752.9 72.4 753.9 72.7 754.9 72.9 755.9 73.2 756.9 73.5" stroke="#ff0000" stroke-width="2.6" stroke-linecap="round" stroke-linejoin="round" fill="none"/>
<path d="M86.25 62.77 L755.20 62.77" stroke="#000" stroke-width="2.25" stroke-dasharray="2.15 3.7" fill="none"/>
</g>
<text x="107.33" y="363.30">4246.5</text>
<text x="261.55" y="363.30">4246.8</text>
<text x="415.77" y="363.30">4247.</text>
<path d="M468.42 363.30 L466.81 363.30 L466.81 353.97 L463.46 353.97 L463.46 352.83 Q465.88 352.69 466.54 351.92 Q467.01 351.31 467.23 350.33 L468.42 350.33Z" fill="#000"/>
<text x="570.00" y="363.30">4247.4</text>
<text x="724.22" y="363.30">4247.7</text>
<text x="46.16" y="343.90">0.3</text>
<text x="46.16" y="305.01">0.4</text>
<text x="46.16" y="266.12">0.5</text>
<text x="46.16" y="227.23">0.6</text>
<text x="46.16" y="188.34">0.7</text>
<text x="46.16" y="149.45">0.8</text>
<text x="46.16" y="110.56">0.9</text>
<path d="M53.03 71.67 L51.42 71.67 L51.42 62.34 L48.07 62.34 L48.07 61.20 Q50.48 61.06 51.14 60.29 Q51.62 59.68 51.84 58.70 L53.03 58.70Z" fill="#000"/>
<text x="56.34" y="71.67">.0</text>
<text x="332.50" y="390.80">Lambda (angstrom)</text>
<path d="M5.30 -11.91 L1.59 0.00 M5.30 -11.91 L9.01 0.00 M5.30 -10.21 L8.48 0.00 M2.65 -3.40 L7.42 -3.40 M0.53 0.00 L3.71 0.00 M6.89 0.00 L10.07 0.00 M13.25 -7.94 L13.25 0.00 M13.78 -7.94 L13.78 0.00 M13.78 -4.54 L14.31 -6.24 L15.37 -7.37 L16.43 -7.94 L18.02 -7.94 L18.55 -7.37 L18.55 -6.80 L18.02 -6.24 L17.49 -6.80 L18.02 -7.37 M11.66 -7.94 L13.78 -7.94 M11.66 0.00 L15.37 0.00 M22.26 -11.91 L22.26 0.00 M22.79 -11.91 L22.79 0.00 M22.79 -6.24 L23.85 -7.37 L24.91 -7.94 L25.97 -7.94 L27.56 -7.37 L28.62 -6.24 L29.15 -4.54 L29.15 -3.40 L28.62 -1.70 L27.56 -0.57 L25.97 0.00 L24.91 0.00 L23.85 -0.57 L22.79 -1.70 M25.97 -7.94 L27.03 -7.37 L28.09 -6.24 L28.62 -4.54 L28.62 -3.40 L28.09 -1.70 L27.03 -0.57 L25.97 0.00 M20.67 -11.91 L22.79 -11.91 M33.39 -11.91 L32.86 -11.34 L33.39 -10.77 L33.92 -11.34 L33.39 -11.91 M33.39 -7.94 L33.39 0.00 M33.92 -7.94 L33.92 0.00 M31.80 -7.94 L33.92 -7.94 M31.80 0.00 L35.51 0.00 M39.22 -11.91 L39.22 -2.27 L39.75 -0.57 L40.81 0.00 L41.87 0.00 L42.93 -0.57 L43.46 -1.70 M39.75 -11.91 L39.75 -2.27 L40.28 -0.57 L40.81 0.00 M37.63 -7.94 L41.87 -7.94 M47.17 -7.94 L47.17 0.00 M47.70 -7.94 L47.70 0.00 M47.70 -4.54 L48.23 -6.24 L49.29 -7.37 L50.35 -7.94 L51.94 -7.94 L52.47 -7.37 L52.47 -6.80 L51.94 -6.24 L51.41 -6.80 L51.94 -7.37 M45.58 -7.94 L47.70 -7.94 M45.58 0.00 L49.29 0.00 M56.18 -6.80 L56.18 -6.24 L55.65 -6.24 L55.65 -6.80 L56.18 -7.37 L57.24 -7.94 L59.36 -7.94 L60.42 -7.37 L60.95 -6.80 L61.48 -5.67 L61.48 -1.70 L62.01 -0.57 L62.54 0.00 M60.95 -6.80 L60.95 -1.70 L61.48 -0.57 L62.54 0.00 L63.07 0.00 M60.95 -5.67 L60.42 -5.10 L57.24 -4.54 L55.65 -3.97 L55.12 -2.83 L55.12 -1.70 L55.65 -0.57 L57.24 0.00 L58.83 0.00 L59.89 -0.57 L60.95 -1.70 M57.24 -4.54 L56.18 -3.97 L55.65 -2.83 L55.65 -1.70 L56.18 -0.57 L57.24 0.00 M66.78 -7.94 L66.78 0.00 M67.31 -7.94 L67.31 0.00 M67.31 -4.54 L67.84 -6.24 L68.90 -7.37 L69.96 -7.94 L71.55 -7.94 L72.08 -7.37 L72.08 -6.80 L71.55 -6.24 L71.02 -6.80 L71.55 -7.37 M65.19 -7.94 L67.31 -7.94 M65.19 0.00 L68.90 0.00 M75.26 -7.94 L78.44 0.00 M75.79 -7.94 L78.44 -1.13 M81.62 -7.94 L78.44 0.00 L77.38 2.27 L76.32 3.40 L75.26 3.97 L74.73 3.97 L74.20 3.40 L74.73 2.83 L75.26 3.40 M74.20 -7.94 L77.38 -7.94 M79.50 -7.94 L82.68 -7.94 M94.34 -11.91 L94.34 0.00 M94.87 -11.91 L94.87 0.00 M98.05 -8.50 L98.05 -3.97 M92.75 -11.91 L101.23 -11.91 L101.23 -8.50 L100.70 -11.91 M94.87 -6.24 L98.05 -6.24 M92.75 0.00 L96.46 0.00 M104.94 -11.91 L104.94 0.00 M105.47 -11.91 L105.47 0.00 M103.35 -11.91 L105.47 -11.91 M103.35 0.00 L107.06 0.00 M110.77 -7.94 L110.77 -1.70 L111.30 -0.57 L112.89 0.00 L113.95 0.00 L115.54 -0.57 L116.60 -1.70 M111.30 -7.94 L111.30 -1.70 L111.83 -0.57 L112.89 0.00 M116.60 -7.94 L116.60 0.00 M117.13 -7.94 L117.13 0.00 M109.18 -7.94 L111.30 -7.94 M115.01 -7.94 L117.13 -7.94 M116.60 0.00 L118.72 0.00 M121.90 -7.94 L127.73 0.00 M122.43 -7.94 L128.26 0.00 M128.26 -7.94 L121.90 0.00 M120.84 -7.94 L124.02 -7.94 M126.14 -7.94 L129.32 -7.94 M120.84 0.00 L124.02 0.00 M126.14 0.00 L129.32 0.00" transform="translate(33.40 189.53) rotate(-90) translate(-65.19 0)" fill="none" stroke="#000" stroke-width="1.22" stroke-linecap="round" stroke-linejoin="round"/>
<rect x="86.90" y="420.00" width="668.30" height="292.00" fill="none" stroke="#000" stroke-width="1.90" stroke-linejoin="round"/>
<path d="M161.16 712.00 V701.00 M161.16 420.00 V431.00 M272.54 712.00 V701.00 M272.54 420.00 V431.00 M383.92 712.00 V701.00 M383.92 420.00 V431.00 M495.31 712.00 V701.00 M495.31 420.00 V431.00 M606.69 712.00 V701.00 M606.69 420.00 V431.00 M718.07 712.00 V701.00 M718.07 420.00 V431.00 M86.90 646.93 H97.90 M755.20 646.93 H744.20 M86.90 582.06 H97.90 M755.20 582.06 H744.20 M86.90 517.19 H97.90 M755.20 517.19 H744.20 M86.90 452.32 H97.90 M755.20 452.32 H744.20" stroke="#000" stroke-width="1.90" stroke-linecap="round" fill="none"/>
<clipPath id="c2"><rect x="86.90" y="420.00" width="668.30" height="292.00"/></clipPath>
<g clip-path="url(#c2)">
<path d="M85.15 444.85 L96.85 456.55 M85.15 456.55 L96.85 444.85 M92.51 443.55 L104.21 455.25 M92.51 455.25 L104.21 443.55 M99.87 441.75 L111.57 453.45 M99.87 453.45 L111.57 441.75 M107.23 445.45 L118.93 457.15 M107.23 457.15 L118.93 445.45 M114.59 447.95 L126.29 459.65 M114.59 459.65 L126.29 447.95 M121.95 448.65 L133.65 460.35 M121.95 460.35 L133.65 448.65 M129.31 447.35 L141.01 459.05 M129.31 459.05 L141.01 447.35 M136.67 446.75 L148.37 458.45 M136.67 458.45 L148.37 446.75 M144.03 446.75 L155.73 458.45 M144.03 458.45 L155.73 446.75 M151.39 448.65 L163.09 460.35 M151.39 460.35 L163.09 448.65 M158.75 450.45 L170.45 462.15 M158.75 462.15 L170.45 450.45 M166.11 448.65 L177.81 460.35 M166.11 460.35 L177.81 448.65 M173.47 446.75 L185.17 458.45 M173.47 458.45 L185.17 446.75 M180.83 447.75 L192.53 459.45 M180.83 459.45 L192.53 447.75 M188.19 452.55 L199.89 464.25 M188.19 464.25 L199.89 452.55 M195.55 446.85 L207.25 458.55 M195.55 458.55 L207.25 446.85 M202.91 447.75 L214.61 459.45 M202.91 459.45 L214.61 447.75 M210.27 455.65 L221.97 467.35 M210.27 467.35 L221.97 455.65 M217.63 449.05 L229.33 460.75 M217.63 460.75 L229.33 449.05 M224.99 443.95 L236.69 455.65 M224.99 455.65 L236.69 443.95 M232.35 445.25 L244.05 456.95 M232.35 456.95 L244.05 445.25 M239.71 449.05 L251.41 460.75 M239.71 460.75 L251.41 449.05 M247.07 452.15 L258.77 463.85 M247.07 463.85 L258.77 452.15 M254.43 449.05 L266.13 460.75 M254.43 460.75 L266.13 449.05 M261.79 449.65 L273.49 461.35 M261.79 461.35 L273.49 449.65 M269.15 452.15 L280.85 463.85 M269.15 463.85 L280.85 452.15 M276.51 451.65 L288.21 463.35 M276.51 463.35 L288.21 451.65 M283.87 455.25 L295.57 466.95 M283.87 466.95 L295.57 455.25 M291.23 449.65 L302.93 461.35 M291.23 461.35 L302.93 449.65 M298.59 449.05 L310.29 460.75 M298.59 460.75 L310.29 449.05 M305.95 452.15 L317.65 463.85 M305.95 463.85 L317.65 452.15 M313.31 451.55 L325.01 463.25 M313.31 463.25 L325.01 451.55 M320.67 452.15 L332.37 463.85 M320.67 463.85 L332.37 452.15 M328.03 450.85 L339.73 462.55 M328.03 462.55 L339.73 450.85 M335.39 452.15 L347.09 463.85 M335.39 463.85 L347.09 452.15 M342.75 454.05 L354.45 465.75 M342.75 465.75 L354.45 454.05 M350.11 455.25 L361.81 466.95 M350.11 466.95 L361.81 455.25 M357.47 455.15 L369.17 466.85 M357.47 466.85 L369.17 455.15 M364.83 455.45 L376.53 467.15 M364.83 467.15 L376.53 455.45 M372.19 456.15 L383.89 467.85 M372.19 467.85 L383.89 456.15 M379.55 456.15 L391.25 467.85 M379.55 467.85 L391.25 456.15 M386.91 458.05 L398.61 469.75 M386.91 469.75 L398.61 458.05 M394.27 461.15 L405.97 472.85 M394.27 472.85 L405.97 461.15 M401.63 467.45 L413.33 479.15 M401.63 479.15 L413.33 467.45 M408.99 483.15 L420.69 494.85 M408.99 494.85 L420.69 483.15 M416.35 515.85 L428.05 527.55 M416.35 527.55 L428.05 515.85 M423.71 552.95 L435.41 564.65 M423.71 564.65 L435.41 552.95 M431.07 595.35 L442.77 607.05 M431.07 607.05 L442.77 595.35 M438.43 634.95 L450.13 646.65 M438.43 646.65 L450.13 634.95 M445.79 659.35 L457.49 671.05 M445.79 671.05 L457.49 659.35 M453.15 647.15 L464.85 658.85 M453.15 658.85 L464.85 647.15 M460.51 618.85 L472.21 630.55 M460.51 630.55 L472.21 618.85 M467.87 573.35 L479.57 585.05 M467.87 585.05 L479.57 573.35 M475.23 538.85 L486.93 550.55 M475.23 550.55 L486.93 538.85 M482.59 511.35 L494.29 523.05 M482.59 523.05 L494.29 511.35 M489.95 483.85 L501.65 495.55 M489.95 495.55 L501.65 483.85 M497.31 465.95 L509.01 477.65 M497.31 477.65 L509.01 465.95 M504.67 455.01 L516.37 466.71 M504.67 466.71 L516.37 455.01 M512.03 453.55 L523.73 465.25 M512.03 465.25 L523.73 453.55 M519.39 455.82 L531.09 467.52 M519.39 467.52 L531.09 455.82 M526.75 454.49 L538.45 466.19 M526.75 466.19 L538.45 454.49 M534.11 445.24 L545.81 456.94 M534.11 456.94 L545.81 445.24 M541.47 445.23 L553.17 456.93 M541.47 456.93 L553.17 445.23 M548.83 449.08 L560.53 460.78 M548.83 460.78 L560.53 449.08 M556.19 449.54 L567.89 461.24 M556.19 461.24 L567.89 449.54 M563.55 444.30 L575.25 456.00 M563.55 456.00 L575.25 444.30 M570.91 446.33 L582.61 458.03 M570.91 458.03 L582.61 446.33 M578.27 453.14 L589.97 464.84 M578.27 464.84 L589.97 453.14 M585.63 451.21 L597.33 462.91 M585.63 462.91 L597.33 451.21 M592.99 449.53 L604.69 461.23 M592.99 461.23 L604.69 449.53 M600.35 450.15 L612.05 461.85 M600.35 461.85 L612.05 450.15 M607.71 446.48 L619.41 458.18 M607.71 458.18 L619.41 446.48 M615.07 443.65 L626.77 455.35 M615.07 455.35 L626.77 443.65 M622.43 446.05 L634.13 457.75 M622.43 457.75 L634.13 446.05 M629.79 450.42 L641.49 462.12 M629.79 462.12 L641.49 450.42 M637.15 453.47 L648.85 465.17 M637.15 465.17 L648.85 453.47 M644.51 455.57 L656.21 467.27 M644.51 467.27 L656.21 455.57 M651.87 455.99 L663.57 467.69 M651.87 467.69 L663.57 455.99 M659.23 453.04 L670.93 464.74 M659.23 464.74 L670.93 453.04 M666.59 447.63 L678.29 459.33 M666.59 459.33 L678.29 447.63 M673.95 444.76 L685.65 456.46 M673.95 456.46 L685.65 444.76 M681.31 447.17 L693.01 458.87 M681.31 458.87 L693.01 447.17 M688.67 452.08 L700.37 463.78 M688.67 463.78 L700.37 452.08 M696.03 452.87 L707.73 464.57 M696.03 464.57 L707.73 452.87 M703.39 450.06 L715.09 461.76 M703.39 461.76 L715.09 450.06 M710.75 449.82 L722.45 461.52 M710.75 461.52 L722.45 449.82 M718.11 451.66 L729.81 463.36 M718.11 463.36 L729.81 451.66 M725.47 449.45 L737.17 461.15 M725.47 461.15 L737.17 449.45 M732.83 446.19 L744.53 457.89 M732.83 457.89 L744.53 446.19 M740.19 446.43 L751.89 458.13 M740.19 458.13 L751.89 446.43 M747.55 449.89 L759.25 461.59 M747.55 461.59 L759.25 449.89 M754.91 449.67 L766.61 461.37 M754.91 461.37 L766.61 449.67" stroke="#000" stroke-width="2.45" stroke-linecap="round" fill="none"/>
<path d="M84.9 453.8 85.9 453.8 86.9 453.8 87.9 453.8 88.9 453.8 89.9 453.8 90.9 453.8 91.9 453.8 92.9 453.8 93.9 453.8 94.9 453.8 95.9 453.8 96.9 453.8 97.9 453.8 98.9 453.8 99.9 453.8 100.9 453.8 101.9 453.8 102.9 453.8 103.9 453.8 104.9 453.8 105.9 453.8 106.9 453.8 107.9 453.8 108.9 453.8 109.9 453.8 110.9 453.8 111.9 453.8 112.9 453.8 113.9 453.8 114.9 453.8 115.9 453.8 116.9 453.8 117.9 453.8 118.9 453.8 119.9 453.8 120.9 453.8 121.9 453.8 122.9 453.8 123.9 453.8 124.9 453.8 125.9 453.8 126.9 453.8 127.9 453.8 128.9 453.8 129.9 453.8 130.9 453.8 131.9 453.8 132.9 453.8 133.9 453.8 134.9 453.8 135.9 453.8 136.9 453.8 137.9 453.8 138.9 453.8 139.9 453.8 140.9 453.8 141.9 453.8 142.9 453.8 143.9 453.8 144.9 453.8 145.9 453.8 146.9 453.8 147.9 453.8 148.9 453.8 149.9 453.8 150.9 453.8 151.9 453.8 152.9 453.8 153.9 453.8 154.9 453.8 155.9 453.8 156.9 453.8 157.9 453.8 158.9 453.8 159.9 453.8 160.9 453.8 161.9 453.8 162.9 453.8 163.9 453.8 164.9 453.8 165.9 453.8 166.9 453.8 167.9 453.8 168.9 453.8 169.9 453.8 170.9 453.8 171.9 453.8 172.9 453.8 173.9 453.8 174.9 453.8 175.9 453.8 176.9 453.8 177.9 453.8 178.9 453.8 179.9 453.8 180.9 453.8 181.9 453.8 182.9 453.8 183.9 453.8 184.9 453.8 185.9 453.8 186.9 453.8 187.9 453.8 188.9 453.8 189.9 453.8 190.9 453.8 191.9 453.8 192.9 453.8 193.9 453.8 194.9 453.8 195.9 453.8 196.9 453.8 197.9 453.8 198.9 453.8 199.9 453.8 200.9 453.8 201.9 453.8 202.9 453.8 203.9 453.8 204.9 453.8 205.9 453.8 206.9 453.8 207.9 453.8 208.9 453.8 209.9 453.8 210.9 453.8 211.9 453.8 212.9 453.8 213.9 453.8 214.9 453.8 215.9 453.8 216.9 453.8 217.9 453.8 218.9 453.8 219.9 453.8 220.9 453.8 221.9 453.8 222.9 453.8 223.9 453.8 224.9 453.8 225.9 453.8 226.9 453.8 227.9 453.8 228.9 453.8 229.9 453.8 230.9 453.8 231.9 453.8 232.9 453.8 233.9 453.8 234.9 453.8 235.9 453.8 236.9 453.8 237.9 453.8 238.9 453.8 239.9 453.8 240.9 453.8 241.9 453.8 242.9 453.8 243.9 453.8 244.9 453.8 245.9 453.8 246.9 453.8 247.9 453.8 248.9 453.8 249.9 453.8 250.9 453.8 251.9 453.8 252.9 453.8 253.9 453.8 254.9 453.8 255.9 453.8 256.9 453.8 257.9 453.8 258.9 453.8 259.9 453.8 260.9 453.8 261.9 453.8 262.9 453.8 263.9 453.8 264.9 453.8 265.9 453.8 266.9 453.8 267.9 453.8 268.9 453.8 269.9 453.8 270.9 453.8 271.9 453.8 272.9 453.8 273.9 453.8 274.9 453.8 275.9 453.8 276.9 453.8 277.9 453.8 278.9 453.8 279.9 453.8 280.9 453.8 281.9 453.8 282.9 453.8 283.9 453.8 284.9 453.8 285.9 453.8 286.9 453.8 287.9 453.8 288.9 453.8 289.9 453.8 290.9 453.8 291.9 453.8 292.9 453.8 293.9 453.8 294.9 453.8 295.9 453.8 296.9 453.8 297.9 453.8 298.9 453.8 299.9 453.8 300.9 453.8 301.9 453.8 302.9 453.8 303.9 453.8 304.9 453.8 305.9 453.8 306.9 453.8 307.9 453.8 308.9 453.8 309.9 453.8 310.9 453.8 311.9 453.8 312.9 453.8 313.9 453.8 314.9 453.8 315.9 453.8 316.9 453.8 317.9 453.8 318.9 453.8 319.9 453.8 320.9 453.8 321.9 453.8 322.9 453.8 323.9 453.8 324.9 453.8 325.9 453.8 326.9 453.8 327.9 453.8 328.9 453.8 329.9 453.8 330.9 453.8 331.9 453.8 332.9 453.8 333.9 453.8 334.9 453.8 335.9 453.8 336.9 453.8 337.9 453.8 338.9 453.8 339.9 453.8 340.9 453.8 341.9 453.8 342.9 453.8 343.9 453.8 344.9 453.8 345.9 453.8 346.9 453.8 347.9 453.8 348.9 453.8 349.9 453.8 350.9 453.8 351.9 453.9 352.9 453.9 353.9 453.9 354.9 453.9 355.9 453.9 356.9 453.9 357.9 453.9 358.9 453.9 359.9 454.0 360.9 454.0 361.9 454.0 362.9 454.0 363.9 454.1 364.9 454.1 365.9 454.2 366.9 454.3 367.9 454.3 368.9 454.4 369.9 454.5 370.9 454.7 371.9 454.8 372.9 455.0 373.9 455.1 374.9 455.4 375.9 455.6 376.9 455.9 377.9 456.2 378.9 456.6 379.9 457.0 380.9 457.5 381.9 458.0 382.9 458.6 383.9 459.3 384.9 460.1 385.9 460.9 386.9 461.9 387.9 463.0 388.9 464.2 389.9 465.5 390.9 467.0 391.9 468.7 392.9 470.5 393.9 472.6 394.9 474.8 395.9 477.3 396.9 480.0 397.9 483.0 398.9 486.2 399.9 489.8 400.9 493.7 401.9 497.8 402.9 502.4 403.9 507.3 404.9 512.6 405.9 518.3 406.9 524.5 407.9 531.0 408.9 538.1 409.9 545.6 410.9 553.6 411.9 562.0 412.9 571.0 413.9 580.5 414.9 590.5 415.9 601.0 416.9 612.0 417.9 623.6 418.9 635.6 419.9 648.2 420.9 661.2 421.9 674.7 422.9 688.6 423.9 702.9 424.9 717.7 425.9 732.7 426.9 748.1 427.9 763.8 428.9 779.7 429.9 795.7 430.9 811.9 431.9 828.2 432.9 844.4 433.9 860.7 434.9 876.8 435.9 892.7 436.9 908.4 437.9 923.8 438.9 938.7 439.9 953.3 440.9 967.3 441.9 980.7 442.9 993.5 443.9 1005.6 444.9 1016.9 445.9 1027.3 446.9 1036.9 447.9 1045.5 448.9 1053.1 449.9 1059.7 450.9 1065.3 451.9 1069.7 452.9 1073.1 453.9 1075.2 454.9 1076.3 455.9 1076.2 456.9 1074.9 457.9 1072.5 458.9 1068.9 459.9 1064.3 460.9 1058.5 461.9 1051.7 462.9 1043.9 463.9 1035.0 464.9 1025.3 465.9 1014.7 466.9 1003.2 467.9 991.0 468.9 978.1 469.9 964.5 470.9 950.4 471.9 935.8 472.9 920.7 473.9 905.3 474.9 889.5 475.9 873.6 476.9 857.4 477.9 841.2 478.9 824.9 479.9 808.7 480.9 792.5 481.9 776.5 482.9 760.6 483.9 745.0 484.9 729.7 485.9 714.7 486.9 700.0 487.9 685.8 488.9 671.9 489.9 658.6 490.9 645.6 491.9 633.2 492.9 621.2 493.9 609.8 494.9 598.9 495.9 588.5 496.9 578.6 497.9 569.2 498.9 560.3 499.9 551.9 500.9 544.0 501.9 536.6 502.9 529.7 503.9 523.2 504.9 517.2 505.9 511.5 506.9 506.3 507.9 501.5 508.9 497.0 509.9 492.9 510.9 489.1 511.9 485.6 512.9 482.4 513.9 479.5 514.9 476.8 515.9 474.4 516.9 472.2 517.9 470.2 518.9 468.4 519.9 466.7 520.9 465.2 521.9 463.9 522.9 462.7 523.9 461.7 524.9 460.7 525.9 459.9 526.9 459.1 527.9 458.5 528.9 457.9 529.9 457.4 530.9 456.9 531.9 456.5 532.9 456.1 533.9 455.8 534.9 455.5 535.9 455.3 536.9 455.1 537.9 454.9 538.9 454.8 539.9 454.6 540.9 454.5 541.9 454.4 542.9 454.3 543.9 454.2 544.9 454.2 545.9 454.1 546.9 454.1 547.9 454.0 548.9 454.0 549.9 454.0 550.9 453.9 551.9 453.9 552.9 453.9 553.9 453.9 554.9 453.9 555.9 453.9 556.9 453.9 557.9 453.9 558.9 453.8 559.9 453.8 560.9 453.8 561.9 453.8 562.9 453.8 563.9 453.8 564.9 453.8 565.9 453.8 566.9 453.8 567.9 453.8 568.9 453.8 569.9 453.8 570.9 453.8 571.9 453.8 572.9 453.8 573.9 453.8 574.9 453.8 575.9 453.8 576.9 453.8 577.9 453.8 578.9 453.8 579.9 453.8 580.9 453.8 581.9 453.8 582.9 453.8 583.9 453.8 584.9 453.8 585.9 453.8 586.9 453.8 587.9 453.8 588.9 453.8 589.9 453.8 590.9 453.8 591.9 453.8 592.9 453.8 593.9 453.8 594.9 453.8 595.9 453.8 596.9 453.8 597.9 453.8 598.9 453.8 599.9 453.8 600.9 453.8 601.9 453.8 602.9 453.8 603.9 453.8 604.9 453.8 605.9 453.8 606.9 453.8 607.9 453.8 608.9 453.8 609.9 453.8 610.9 453.8 611.9 453.8 612.9 453.8 613.9 453.8 614.9 453.8 615.9 453.8 616.9 453.8 617.9 453.8 618.9 453.8 619.9 453.8 620.9 453.8 621.9 453.8 622.9 453.8 623.9 453.8 624.9 453.8 625.9 453.8 626.9 453.8 627.9 453.8 628.9 453.8 629.9 453.8 630.9 453.8 631.9 453.8 632.9 453.8 633.9 453.8 634.9 453.8 635.9 453.8 636.9 453.8 637.9 453.8 638.9 453.8 639.9 453.8 640.9 453.8 641.9 453.8 642.9 453.8 643.9 453.8 644.9 453.8 645.9 453.8 646.9 453.8 647.9 453.8 648.9 453.8 649.9 453.8 650.9 453.8 651.9 453.8 652.9 453.8 653.9 453.8 654.9 453.8 655.9 453.8 656.9 453.8 657.9 453.8 658.9 453.8 659.9 453.8 660.9 453.8 661.9 453.8 662.9 453.8 663.9 453.8 664.9 453.8 665.9 453.8 666.9 453.8 667.9 453.8 668.9 453.8 669.9 453.8 670.9 453.8 671.9 453.8 672.9 453.8 673.9 453.8 674.9 453.8 675.9 453.8 676.9 453.8 677.9 453.8 678.9 453.8 679.9 453.8 680.9 453.8 681.9 453.8 682.9 453.8 683.9 453.8 684.9 453.8 685.9 453.8 686.9 453.8 687.9 453.8 688.9 453.8 689.9 453.8 690.9 453.8 691.9 453.8 692.9 453.8 693.9 453.8 694.9 453.8 695.9 453.8 696.9 453.8 697.9 453.8 698.9 453.8 699.9 453.8 700.9 453.8 701.9 453.8 702.9 453.8 703.9 453.8 704.9 453.8 705.9 453.8 706.9 453.8 707.9 453.8 708.9 453.8 709.9 453.8 710.9 453.8 711.9 453.8 712.9 453.8 713.9 453.8 714.9 453.8 715.9 453.8 716.9 453.8 717.9 453.8 718.9 453.8 719.9 453.8 720.9 453.8 721.9 453.8 722.9 453.8 723.9 453.8 724.9 453.8 725.9 453.8 726.9 453.8 727.9 453.8 728.9 453.8 729.9 453.8 730.9 453.8 731.9 453.8 732.9 453.8 733.9 453.8 734.9 453.8 735.9 453.8 736.9 453.8 737.9 453.8 738.9 453.8 739.9 453.8 740.9 453.8 741.9 453.8 742.9 453.8 743.9 453.8 744.9 453.8 745.9 453.8 746.9 453.8 747.9 453.8 748.9 453.8 749.9 453.8 750.9 453.8 751.9 453.8 752.9 453.8 753.9 453.8 754.9 453.8 755.9 453.8 756.9 453.8" stroke="#0000ff" stroke-width="2.25" stroke-dasharray="2.15 3.7" stroke-linejoin="round" fill="none"/>
<path d="M84.9 453.8 85.9 453.8 86.9 453.8 87.9 453.8 88.9 453.8 89.9 453.8 90.9 453.8 91.9 453.8 92.9 453.8 93.9 453.8 94.9 453.8 95.9 453.8 96.9 453.8 97.9 453.8 98.9 453.8 99.9 453.8 100.9 453.8 101.9 453.8 102.9 453.8 103.9 453.8 104.9 453.8 105.9 453.8 106.9 453.8 107.9 453.8 108.9 453.8 109.9 453.8 110.9 453.8 111.9 453.8 112.9 453.8 113.9 453.8 114.9 453.8 115.9 453.8 116.9 453.8 117.9 453.8 118.9 453.8 119.9 453.8 120.9 453.8 121.9 453.8 122.9 453.8 123.9 453.8 124.9 453.8 125.9 453.8 126.9 453.8 127.9 453.8 128.9 453.8 129.9 453.8 130.9 453.8 131.9 453.8 132.9 453.8 133.9 453.8 134.9 453.8 135.9 453.8 136.9 453.8 137.9 453.8 138.9 453.8 139.9 453.8 140.9 453.8 141.9 453.8 142.9 453.8 143.9 453.8 144.9 453.8 145.9 453.8 146.9 453.8 147.9 453.8 148.9 453.8 149.9 453.8 150.9 453.8 151.9 453.8 152.9 453.8 153.9 453.8 154.9 453.8 155.9 453.8 156.9 453.8 157.9 453.8 158.9 453.8 159.9 453.8 160.9 453.8 161.9 453.8 162.9 453.8 163.9 453.8 164.9 453.8 165.9 453.8 166.9 453.8 167.9 453.8 168.9 453.8 169.9 453.8 170.9 453.8 171.9 453.8 172.9 453.8 173.9 453.8 174.9 453.8 175.9 453.8 176.9 453.8 177.9 453.8 178.9 453.8 179.9 453.8 180.9 453.8 181.9 453.8 182.9 453.8 183.9 453.8 184.9 453.8 185.9 453.8 186.9 453.8 187.9 453.8 188.9 453.8 189.9 453.8 190.9 453.8 191.9 453.8 192.9 453.8 193.9 453.8 194.9 453.8 195.9 453.8 196.9 453.8 197.9 453.8 198.9 453.8 199.9 453.8 200.9 453.8 201.9 453.8 202.9 453.8 203.9 453.8 204.9 453.8 205.9 453.8 206.9 453.8 207.9 453.8 208.9 453.8 209.9 453.8 210.9 453.8 211.9 453.8 212.9 453.8 213.9 453.8 214.9 453.8 215.9 453.8 216.9 453.8 217.9 453.8 218.9 453.8 219.9 453.8 220.9 453.8 221.9 453.8 222.9 453.8 223.9 453.8 224.9 453.8 225.9 453.8 226.9 453.8 227.9 453.8 228.9 453.8 229.9 453.8 230.9 453.8 231.9 453.8 232.9 453.8 233.9 453.8 234.9 453.8 235.9 453.8 236.9 453.8 237.9 453.8 238.9 453.8 239.9 453.8 240.9 453.8 241.9 453.8 242.9 453.8 243.9 453.8 244.9 453.8 245.9 453.8 246.9 453.8 247.9 453.8 248.9 453.8 249.9 453.8 250.9 453.8 251.9 453.8 252.9 453.8 253.9 453.8 254.9 453.8 255.9 453.8 256.9 453.8 257.9 453.8 258.9 453.8 259.9 453.8 260.9 453.8 261.9 453.8 262.9 453.8 263.9 453.8 264.9 453.8 265.9 453.8 266.9 453.8 267.9 453.8 268.9 453.8 269.9 453.8 270.9 453.8 271.9 453.8 272.9 453.8 273.9 453.8 274.9 453.8 275.9 453.8 276.9 453.8 277.9 453.8 278.9 453.8 279.9 453.8 280.9 453.8 281.9 453.8 282.9 453.8 283.9 453.8 284.9 453.8 285.9 453.8 286.9 453.8 287.9 453.8 288.9 453.8 289.9 453.8 290.9 453.8 291.9 453.8 292.9 453.8 293.9 453.8 294.9 453.8 295.9 453.8 296.9 453.8 297.9 453.8 298.9 453.8 299.9 453.8 300.9 453.8 301.9 453.8 302.9 453.8 303.9 453.8 304.9 453.8 305.9 453.8 306.9 453.8 307.9 453.8 308.9 453.8 309.9 453.8 310.9 453.8 311.9 453.8 312.9 453.8 313.9 453.8 314.9 453.8 315.9 453.8 316.9 453.8 317.9 453.8 318.9 453.8 319.9 453.8 320.9 453.8 321.9 453.8 322.9 453.8 323.9 453.8 324.9 453.8 325.9 453.8 326.9 453.8 327.9 453.8 328.9 453.8 329.9 453.8 330.9 453.8 331.9 453.8 332.9 453.8 333.9 453.8 334.9 453.8 335.9 453.8 336.9 453.8 337.9 453.8 338.9 453.8 339.9 453.8 340.9 453.8 341.9 453.8 342.9 453.8 343.9 453.8 344.9 453.8 345.9 453.8 346.9 453.8 347.9 453.8 348.9 453.8 349.9 453.8 350.9 453.8 351.9 453.8 352.9 453.8 353.9 453.8 354.9 453.8 355.9 453.8 356.9 453.8 357.9 453.8 358.9 453.8 359.9 453.8 360.9 453.8 361.9 453.8 362.9 453.8 363.9 453.9 364.9 453.9 365.9 453.9 366.9 453.9 367.9 453.9 368.9 453.9 369.9 453.9 370.9 453.9 371.9 454.0 372.9 454.0 373.9 454.0 374.9 454.0 375.9 454.1 376.9 454.1 377.9 454.2 378.9 454.2 379.9 454.3 380.9 454.4 381.9 454.5 382.9 454.6 383.9 454.7 384.9 454.9 385.9 455.0 386.9 455.2 387.9 455.4 388.9 455.7 389.9 456.0 390.9 456.3 391.9 456.6 392.9 457.0 393.9 457.4 394.9 457.9 395.9 458.5 396.9 459.1 397.9 459.8 398.9 460.5 399.9 461.3 400.9 462.2 401.9 463.2 402.9 464.3 403.9 465.5 404.9 466.8 405.9 468.3 406.9 469.8 407.9 471.5 408.9 473.3 409.9 475.3 410.9 477.4 411.9 479.6 412.9 482.1 413.9 484.6 414.9 487.4 415.9 490.3 416.9 493.4 417.9 496.6 418.9 500.1 419.9 503.7 420.9 507.4 421.9 511.3 422.9 515.4 423.9 519.7 424.9 524.0 425.9 528.6 426.9 533.2 427.9 538.0 428.9 542.8 429.9 547.7 430.9 552.8 431.9 557.8 432.9 562.9 433.9 568.0 434.9 573.1 435.9 578.1 436.9 583.1 437.9 588.0 438.9 592.9 439.9 597.5 440.9 602.1 441.9 606.4 442.9 610.6 443.9 614.5 444.9 618.2 445.9 621.7 446.9 624.8 447.9 627.6 448.9 630.2 449.9 632.3 450.9 634.2 451.9 635.7 452.9 636.8 453.9 637.5 454.9 637.8 455.9 637.8 456.9 637.4 457.9 636.6 458.9 635.4 459.9 633.8 460.9 631.9 461.9 629.7 462.9 627.1 463.9 624.2 464.9 621.0 465.9 617.5 466.9 613.8 467.9 609.8 468.9 605.6 469.9 601.2 470.9 596.6 471.9 591.9 472.9 587.1 473.9 582.1 474.9 577.1 475.9 572.1 476.9 567.0 477.9 561.9 478.9 556.8 479.9 551.7 480.9 546.8 481.9 541.8 482.9 537.0 483.9 532.3 484.9 527.6 485.9 523.2 486.9 518.8 487.9 514.6 488.9 510.5 489.9 506.6 490.9 502.9 491.9 499.4 492.9 496.0 493.9 492.8 494.9 489.7 495.9 486.8 496.9 484.1 497.9 481.6 498.9 479.2 499.9 477.0 500.9 474.9 501.9 472.9 502.9 471.2 503.9 469.5 504.9 468.0 505.9 466.6 506.9 465.3 507.9 464.1 508.9 463.0 509.9 462.0 510.9 461.2 511.9 460.3 512.9 459.6 513.9 459.0 514.9 458.4 515.9 457.8 516.9 457.3 517.9 456.9 518.9 456.5 519.9 456.2 520.9 455.9 521.9 455.6 522.9 455.4 523.9 455.2 524.9 455.0 525.9 454.8 526.9 454.7 527.9 454.6 528.9 454.5 529.9 454.4 530.9 454.3 531.9 454.2 532.9 454.2 533.9 454.1 534.9 454.1 535.9 454.0 536.9 454.0 537.9 454.0 538.9 453.9 539.9 453.9 540.9 453.9 541.9 453.9 542.9 453.9 543.9 453.9 544.9 453.9 545.9 453.9 546.9 453.8 547.9 453.8 548.9 453.8 549.9 453.8 550.9 453.8 551.9 453.8 552.9 453.8 553.9 453.8 554.9 453.8 555.9 453.8 556.9 453.8 557.9 453.8 558.9 453.8 559.9 453.8 560.9 453.8 561.9 453.8 562.9 453.8 563.9 453.8 564.9 453.8 565.9 453.8 566.9 453.8 567.9 453.8 568.9 453.8 569.9 453.8 570.9 453.8 571.9 453.8 572.9 453.8 573.9 453.8 574.9 453.8 575.9 453.8 576.9 453.8 577.9 453.8 578.9 453.8 579.9 453.8 580.9 453.8 581.9 453.8 582.9 453.8 583.9 453.8 584.9 453.8 585.9 453.8 586.9 453.8 587.9 453.8 588.9 453.8 589.9 453.8 590.9 453.8 591.9 453.8 592.9 453.8 593.9 453.8 594.9 453.8 595.9 453.8 596.9 453.8 597.9 453.8 598.9 453.8 599.9 453.8 600.9 453.8 601.9 453.8 602.9 453.8 603.9 453.8 604.9 453.8 605.9 453.8 606.9 453.8 607.9 453.8 608.9 453.8 609.9 453.8 610.9 453.8 611.9 453.8 612.9 453.8 613.9 453.8 614.9 453.8 615.9 453.8 616.9 453.8 617.9 453.8 618.9 453.8 619.9 453.8 620.9 453.8 621.9 453.8 622.9 453.8 623.9 453.8 624.9 453.8 625.9 453.8 626.9 453.8 627.9 453.8 628.9 453.8 629.9 453.8 630.9 453.8 631.9 453.8 632.9 453.8 633.9 453.8 634.9 453.8 635.9 453.8 636.9 453.8 637.9 453.8 638.9 453.8 639.9 453.8 640.9 453.8 641.9 453.8 642.9 453.8 643.9 453.8 644.9 453.8 645.9 453.8 646.9 453.8 647.9 453.8 648.9 453.8 649.9 453.8 650.9 453.8 651.9 453.8 652.9 453.8 653.9 453.8 654.9 453.8 655.9 453.8 656.9 453.8 657.9 453.8 658.9 453.8 659.9 453.8 660.9 453.8 661.9 453.8 662.9 453.8 663.9 453.8 664.9 453.8 665.9 453.8 666.9 453.8 667.9 453.8 668.9 453.8 669.9 453.8 670.9 453.8 671.9 453.8 672.9 453.8 673.9 453.8 674.9 453.8 675.9 453.8 676.9 453.8 677.9 453.8 678.9 453.8 679.9 453.8 680.9 453.8 681.9 453.8 682.9 453.8 683.9 453.8 684.9 453.8 685.9 453.8 686.9 453.8 687.9 453.8 688.9 453.8 689.9 453.8 690.9 453.8 691.9 453.8 692.9 453.8 693.9 453.8 694.9 453.8 695.9 453.8 696.9 453.8 697.9 453.8 698.9 453.8 699.9 453.8 700.9 453.8 701.9 453.8 702.9 453.8 703.9 453.8 704.9 453.8 705.9 453.8 706.9 453.8 707.9 453.8 708.9 453.8 709.9 453.8 710.9 453.8 711.9 453.8 712.9 453.8 713.9 453.8 714.9 453.8 715.9 453.8 716.9 453.8 717.9 453.8 718.9 453.8 719.9 453.8 720.9 453.8 721.9 453.8 722.9 453.8 723.9 453.8 724.9 453.8 725.9 453.8 726.9 453.8 727.9 453.8 728.9 453.8 729.9 453.8 730.9 453.8 731.9 453.8 732.9 453.8 733.9 453.8 734.9 453.8 735.9 453.8 736.9 453.8 737.9 453.8 738.9 453.8 739.9 453.8 740.9 453.8 741.9 453.8 742.9 453.8 743.9 453.8 744.9 453.8 745.9 453.8 746.9 453.8 747.9 453.8 748.9 453.8 749.9 453.8 750.9 453.8 751.9 453.8 752.9 453.8 753.9 453.8 754.9 453.8 755.9 453.8 756.9 453.8" stroke="#0000ff" stroke-width="2.25" stroke-dasharray="2.15 3.7" stroke-linejoin="round" fill="none"/>
<path d="M84.9 453.8 85.9 453.8 86.9 453.8 87.9 453.8 88.9 453.8 89.9 453.8 90.9 453.8 91.9 453.8 92.9 453.8 93.9 453.8 94.9 453.8 95.9 453.8 96.9 453.8 97.9 453.8 98.9 453.8 99.9 453.8 100.9 453.8 101.9 453.8 102.9 453.8 103.9 453.8 104.9 453.8 105.9 453.8 106.9 453.8 107.9 453.8 108.9 453.8 109.9 453.8 110.9 453.8 111.9 453.8 112.9 453.8 113.9 453.8 114.9 453.8 115.9 453.8 116.9 453.8 117.9 453.8 118.9 453.8 119.9 453.8 120.9 453.8 121.9 453.8 122.9 453.8 123.9 453.8 124.9 453.8 125.9 453.8 126.9 453.8 127.9 453.8 128.9 453.8 129.9 453.8 130.9 453.8 131.9 453.8 132.9 453.8 133.9 453.8 134.9 453.8 135.9 453.8 136.9 453.8 137.9 453.8 138.9 453.8 139.9 453.8 140.9 453.8 141.9 453.8 142.9 453.8 143.9 453.8 144.9 453.8 145.9 453.8 146.9 453.8 147.9 453.8 148.9 453.8 149.9 453.8 150.9 453.8 151.9 453.8 152.9 453.8 153.9 453.8 154.9 453.8 155.9 453.8 156.9 453.8 157.9 453.8 158.9 453.8 159.9 453.8 160.9 453.8 161.9 453.8 162.9 453.8 163.9 453.8 164.9 453.8 165.9 453.8 166.9 453.8 167.9 453.8 168.9 453.8 169.9 453.8 170.9 453.8 171.9 453.8 172.9 453.8 173.9 453.8 174.9 453.8 175.9 453.8 176.9 453.8 177.9 453.8 178.9 453.8 179.9 453.8 180.9 453.8 181.9 453.8 182.9 453.8 183.9 453.8 184.9 453.8 185.9 453.8 186.9 453.8 187.9 453.8 188.9 453.8 189.9 453.8 190.9 453.8 191.9 453.8 192.9 453.8 193.9 453.8 194.9 453.8 195.9 453.8 196.9 453.8 197.9 453.8 198.9 453.8 199.9 453.8 200.9 453.8 201.9 453.8 202.9 453.8 203.9 453.8 204.9 453.8 205.9 453.8 206.9 453.8 207.9 453.8 208.9 453.8 209.9 453.8 210.9 453.8 211.9 453.8 212.9 453.8 213.9 453.8 214.9 453.8 215.9 453.8 216.9 453.8 217.9 453.8 218.9 453.8 219.9 453.8 220.9 453.8 221.9 453.8 222.9 453.8 223.9 453.8 224.9 453.8 225.9 453.8 226.9 453.8 227.9 453.8 228.9 453.8 229.9 453.8 230.9 453.8 231.9 453.8 232.9 453.8 233.9 453.8 234.9 453.8 235.9 453.8 236.9 453.8 237.9 453.8 238.9 453.8 239.9 453.8 240.9 453.8 241.9 453.8 242.9 453.8 243.9 453.8 244.9 453.8 245.9 453.8 246.9 453.8 247.9 453.8 248.9 453.8 249.9 453.8 250.9 453.8 251.9 453.8 252.9 453.8 253.9 453.8 254.9 453.8 255.9 453.8 256.9 453.8 257.9 453.8 258.9 453.8 259.9 453.8 260.9 453.8 261.9 453.8 262.9 453.8 263.9 453.8 264.9 453.8 265.9 453.8 266.9 453.8 267.9 453.8 268.9 453.8 269.9 453.8 270.9 453.8 271.9 453.8 272.9 453.8 273.9 453.8 274.9 453.8 275.9 453.8 276.9 453.8 277.9 453.8 278.9 453.8 279.9 453.8 280.9 453.8 281.9 453.8 282.9 453.8 283.9 453.8 284.9 453.8 285.9 453.8 286.9 453.8 287.9 453.8 288.9 453.8 289.9 453.8 290.9 453.8 291.9 453.8 292.9 453.8 293.9 453.8 294.9 453.8 295.9 453.8 296.9 453.8 297.9 453.8 298.9 453.8 299.9 453.8 300.9 453.8 301.9 453.8 302.9 453.8 303.9 453.8 304.9 453.8 305.9 453.8 306.9 453.8 307.9 453.8 308.9 453.8 309.9 453.8 310.9 453.8 311.9 453.8 312.9 453.8 313.9 453.8 314.9 453.8 315.9 453.8 316.9 453.8 317.9 453.8 318.9 453.8 319.9 453.8 320.9 453.8 321.9 453.8 322.9 453.8 323.9 453.8 324.9 453.8 325.9 453.8 326.9 453.8 327.9 453.8 328.9 453.8 329.9 453.8 330.9 453.8 331.9 453.8 332.9 453.8 333.9 453.8 334.9 453.8 335.9 453.8 336.9 453.8 337.9 453.8 338.9 453.8 339.9 453.8 340.9 453.8 341.9 453.8 342.9 453.8 343.9 453.8 344.9 453.8 345.9 453.8 346.9 453.8 347.9 453.8 348.9 453.8 349.9 453.8 350.9 453.8 351.9 453.8 352.9 453.8 353.9 453.8 354.9 453.8 355.9 453.8 356.9 453.8 357.9 453.8 358.9 453.8 359.9 453.8 360.9 453.8 361.9 453.8 362.9 453.8 363.9 453.8 364.9 453.8 365.9 453.9 366.9 453.9 367.9 453.9 368.9 453.9 369.9 453.9 370.9 453.9 371.9 453.9 372.9 453.9 373.9 453.9 374.9 454.0 375.9 454.0 376.9 454.0 377.9 454.0 378.9 454.1 379.9 454.1 380.9 454.1 381.9 454.2 382.9 454.2 383.9 454.3 384.9 454.3 385.9 454.4 386.9 454.5 387.9 454.6 388.9 454.7 389.9 454.8 390.9 454.9 391.9 455.0 392.9 455.2 393.9 455.4 394.9 455.5 395.9 455.7 396.9 455.9 397.9 456.2 398.9 456.4 399.9 456.7 400.9 457.0 401.9 457.3 402.9 457.7 403.9 458.1 404.9 458.5 405.9 458.9 406.9 459.4 407.9 459.9 408.9 460.4 409.9 461.0 410.9 461.6 411.9 462.3 412.9 463.0 413.9 463.7 414.9 464.4 415.9 465.2 416.9 466.1 417.9 466.9 418.9 467.8 419.9 468.8 420.9 469.8 421.9 470.8 422.9 471.8 423.9 472.9 424.9 474.0 425.9 475.1 426.9 476.2 427.9 477.4 428.9 478.6 429.9 479.8 430.9 481.0 431.9 482.2 432.9 483.4 433.9 484.5 434.9 485.7 435.9 486.9 436.9 488.1 437.9 489.2 438.9 490.3 439.9 491.3 440.9 492.4 441.9 493.4 442.9 494.3 443.9 495.2 444.9 496.0 445.9 496.8 446.9 497.5 447.9 498.1 448.9 498.6 449.9 499.1 450.9 499.5 451.9 499.8 452.9 500.1 453.9 500.2 454.9 500.3 455.9 500.3 456.9 500.2 457.9 500.0 458.9 499.8 459.9 499.4 460.9 499.0 461.9 498.5 462.9 498.0 463.9 497.3 464.9 496.6 465.9 495.8 466.9 495.0 467.9 494.1 468.9 493.2 469.9 492.2 470.9 491.1 471.9 490.1 472.9 489.0 473.9 487.8 474.9 486.7 475.9 485.5 476.9 484.3 477.9 483.1 478.9 481.9 479.9 480.7 480.9 479.5 481.9 478.3 482.9 477.2 483.9 476.0 484.9 474.9 485.9 473.7 486.9 472.7 487.9 471.6 488.9 470.6 489.9 469.6 490.9 468.6 491.9 467.7 492.9 466.8 493.9 465.9 494.9 465.1 495.9 464.3 496.9 463.5 497.9 462.8 498.9 462.1 499.9 461.5 500.9 460.9 501.9 460.3 502.9 459.8 503.9 459.3 504.9 458.8 505.9 458.4 506.9 458.0 507.9 457.6 508.9 457.3 509.9 456.9 510.9 456.7 511.9 456.4 512.9 456.1 513.9 455.9 514.9 455.7 515.9 455.5 516.9 455.3 517.9 455.2 518.9 455.0 519.9 454.9 520.9 454.8 521.9 454.7 522.9 454.6 523.9 454.5 524.9 454.4 525.9 454.3 526.9 454.3 527.9 454.2 528.9 454.2 529.9 454.1 530.9 454.1 531.9 454.0 532.9 454.0 533.9 454.0 534.9 454.0 535.9 453.9 536.9 453.9 537.9 453.9 538.9 453.9 539.9 453.9 540.9 453.9 541.9 453.9 542.9 453.9 543.9 453.9 544.9 453.9 545.9 453.8 546.9 453.8 547.9 453.8 548.9 453.8 549.9 453.8 550.9 453.8 551.9 453.8 552.9 453.8 553.9 453.8 554.9 453.8 555.9 453.8 556.9 453.8 557.9 453.8 558.9 453.8 559.9 453.8 560.9 453.8 561.9 453.8 562.9 453.8 563.9 453.8 564.9 453.8 565.9 453.8 566.9 453.8 567.9 453.8 568.9 453.8 569.9 453.8 570.9 453.8 571.9 453.8 572.9 453.8 573.9 453.8 574.9 453.8 575.9 453.8 576.9 453.8 577.9 453.8 578.9 453.8 579.9 453.8 580.9 453.8 581.9 453.8 582.9 453.8 583.9 453.8 584.9 453.8 585.9 453.8 586.9 453.8 587.9 453.8 588.9 453.8 589.9 453.8 590.9 453.8 591.9 453.8 592.9 453.8 593.9 453.8 594.9 453.8 595.9 453.8 596.9 453.8 597.9 453.8 598.9 453.8 599.9 453.8 600.9 453.8 601.9 453.8 602.9 453.8 603.9 453.8 604.9 453.8 605.9 453.8 606.9 453.8 607.9 453.8 608.9 453.8 609.9 453.8 610.9 453.8 611.9 453.8 612.9 453.8 613.9 453.8 614.9 453.8 615.9 453.8 616.9 453.8 617.9 453.8 618.9 453.8 619.9 453.8 620.9 453.8 621.9 453.8 622.9 453.8 623.9 453.8 624.9 453.8 625.9 453.8 626.9 453.8 627.9 453.8 628.9 453.8 629.9 453.8 630.9 453.8 631.9 453.8 632.9 453.8 633.9 453.8 634.9 453.8 635.9 453.8 636.9 453.8 637.9 453.8 638.9 453.8 639.9 453.8 640.9 453.8 641.9 453.8 642.9 453.8 643.9 453.8 644.9 453.8 645.9 453.8 646.9 453.8 647.9 453.8 648.9 453.8 649.9 453.8 650.9 453.8 651.9 453.8 652.9 453.8 653.9 453.8 654.9 453.8 655.9 453.8 656.9 453.8 657.9 453.8 658.9 453.8 659.9 453.8 660.9 453.8 661.9 453.8 662.9 453.8 663.9 453.8 664.9 453.8 665.9 453.8 666.9 453.8 667.9 453.8 668.9 453.8 669.9 453.8 670.9 453.8 671.9 453.8 672.9 453.8 673.9 453.8 674.9 453.8 675.9 453.8 676.9 453.8 677.9 453.8 678.9 453.8 679.9 453.8 680.9 453.8 681.9 453.8 682.9 453.8 683.9 453.8 684.9 453.8 685.9 453.8 686.9 453.8 687.9 453.8 688.9 453.8 689.9 453.8 690.9 453.8 691.9 453.8 692.9 453.8 693.9 453.8 694.9 453.8 695.9 453.8 696.9 453.8 697.9 453.8 698.9 453.8 699.9 453.8 700.9 453.8 701.9 453.8 702.9 453.8 703.9 453.8 704.9 453.8 705.9 453.8 706.9 453.8 707.9 453.8 708.9 453.8 709.9 453.8 710.9 453.8 711.9 453.8 712.9 453.8 713.9 453.8 714.9 453.8 715.9 453.8 716.9 453.8 717.9 453.8 718.9 453.8 719.9 453.8 720.9 453.8 721.9 453.8 722.9 453.8 723.9 453.8 724.9 453.8 725.9 453.8 726.9 453.8 727.9 453.8 728.9 453.8 729.9 453.8 730.9 453.8 731.9 453.8 732.9 453.8 733.9 453.8 734.9 453.8 735.9 453.8 736.9 453.8 737.9 453.8 738.9 453.8 739.9 453.8 740.9 453.8 741.9 453.8 742.9 453.8 743.9 453.8 744.9 453.8 745.9 453.8 746.9 453.8 747.9 453.8 748.9 453.8 749.9 453.8 750.9 453.8 751.9 453.8 752.9 453.8 753.9 453.8 754.9 453.8 755.9 453.8 756.9 453.8" stroke="#0000ff" stroke-width="2.25" stroke-dasharray="2.15 3.7" stroke-linejoin="round" fill="none"/>
<path d="M84.9 452.4 85.9 452.4 86.9 452.4 87.9 452.4 88.9 452.4 89.9 452.4 90.9 452.4 91.9 452.4 92.9 452.4 93.9 452.4 94.9 452.4 95.9 452.4 96.9 452.4 97.9 452.4 98.9 452.4 99.9 452.4 100.9 452.4 101.9 452.4 102.9 452.4 103.9 452.4 104.9 452.4 105.9 452.4 106.9 452.4 107.9 452.4 108.9 452.4 109.9 452.4 110.9 452.4 111.9 452.4 112.9 452.4 113.9 452.4 114.9 452.4 115.9 452.4 116.9 452.4 117.9 452.4 118.9 452.4 119.9 452.4 120.9 452.4 121.9 452.4 122.9 452.4 123.9 452.4 124.9 452.4 125.9 452.4 126.9 452.4 127.9 452.4 128.9 452.4 129.9 452.4 130.9 452.4 131.9 452.4 132.9 452.4 133.9 452.4 134.9 452.4 135.9 452.4 136.9 452.4 137.9 452.4 138.9 452.4 139.9 452.4 140.9 452.4 141.9 452.4 142.9 452.4 143.9 452.4 144.9 452.4 145.9 452.4 146.9 452.4 147.9 452.4 148.9 452.4 149.9 452.4 150.9 452.4 151.9 452.4 152.9 452.4 153.9 452.4 154.9 452.4 155.9 452.4 156.9 452.4 157.9 452.4 158.9 452.4 159.9 452.4 160.9 452.4 161.9 452.4 162.9 452.4 163.9 452.4 164.9 452.4 165.9 452.4 166.9 452.4 167.9 452.4 168.9 452.4 169.9 452.4 170.9 452.4 171.9 452.4 172.9 452.4 173.9 452.4 174.9 452.4 175.9 452.4 176.9 452.4 177.9 452.4 178.9 452.4 179.9 452.4 180.9 452.4 181.9 452.4 182.9 452.4 183.9 452.4 184.9 452.4 185.9 452.4 186.9 452.4 187.9 452.4 188.9 452.4 189.9 452.4 190.9 452.4 191.9 452.4 192.9 452.4 193.9 452.4 194.9 452.4 195.9 452.4 196.9 452.4 197.9 452.4 198.9 452.4 199.9 452.4 200.9 452.4 201.9 452.4 202.9 452.4 203.9 452.4 204.9 452.4 205.9 452.4 206.9 452.4 207.9 452.4 208.9 452.4 209.9 452.4 210.9 452.4 211.9 452.4 212.9 452.4 213.9 452.4 214.9 452.4 215.9 452.4 216.9 452.4 217.9 452.4 218.9 452.4 219.9 452.4 220.9 452.4 221.9 452.4 222.9 452.4 223.9 452.4 224.9 452.4 225.9 452.4 226.9 452.4 227.9 452.4 228.9 452.4 229.9 452.4 230.9 452.4 231.9 452.4 232.9 452.4 233.9 452.4 234.9 452.4 235.9 452.4 236.9 452.4 237.9 452.4 238.9 452.4 239.9 452.4 240.9 452.4 241.9 452.4 242.9 452.4 243.9 452.4 244.9 452.4 245.9 452.4 246.9 452.4 247.9 452.4 248.9 452.4 249.9 452.4 250.9 452.4 251.9 452.4 252.9 452.4 253.9 452.4 254.9 452.4 255.9 452.4 256.9 452.4 257.9 452.4 258.9 452.4 259.9 452.4 260.9 452.4 261.9 452.4 262.9 452.4 263.9 452.4 264.9 452.4 265.9 452.4 266.9 452.4 267.9 452.4 268.9 452.4 269.9 452.4 270.9 452.4 271.9 452.4 272.9 452.4 273.9 452.4 274.9 452.4 275.9 452.4 276.9 452.4 277.9 452.4 278.9 452.4 279.9 452.4 280.9 452.4 281.9 452.4 282.9 452.4 283.9 452.4 284.9 452.4 285.9 452.4 286.9 452.4 287.9 452.4 288.9 452.4 289.9 452.4 290.9 452.4 291.9 452.4 292.9 452.4 293.9 452.4 294.9 452.4 295.9 452.4 296.9 452.4 297.9 452.4 298.9 452.4 299.9 452.4 300.9 452.4 301.9 452.4 302.9 452.4 303.9 452.4 304.9 452.4 305.9 452.4 306.9 452.4 307.9 452.4 308.9 452.4 309.9 452.4 310.9 452.4 311.9 452.4 312.9 452.4 313.9 452.4 314.9 452.4 315.9 452.4 316.9 452.4 317.9 452.4 318.9 452.4 319.9 452.4 320.9 452.4 321.9 452.4 322.9 452.4 323.9 452.4 324.9 452.4 325.9 452.5 326.9 452.5 327.9 452.5 328.9 452.5 329.9 452.5 330.9 452.5 331.9 452.5 332.9 452.5 333.9 452.5 334.9 452.5 335.9 452.5 336.9 452.5 337.9 452.5 338.9 452.5 339.9 452.5 340.9 452.5 341.9 452.5 342.9 452.5 343.9 452.5 344.9 452.5 345.9 452.5 346.9 452.5 347.9 452.5 348.9 452.5 349.9 452.6 350.9 452.6 351.9 452.6 352.9 452.6 353.9 452.6 354.9 452.6 355.9 452.6 356.9 452.6 357.9 452.6 358.9 452.6 359.9 452.7 360.9 452.7 361.9 452.7 362.9 452.7 363.9 452.7 364.9 452.8 365.9 452.8 366.9 452.8 367.9 452.8 368.9 452.9 369.9 452.9 370.9 453.0 371.9 453.0 372.9 453.1 373.9 453.1 374.9 453.2 375.9 453.3 376.9 453.4 377.9 453.5 378.9 453.6 379.9 453.7 380.9 453.9 381.9 454.1 382.9 454.3 383.9 454.5 384.9 454.7 385.9 455.0 386.9 455.3 387.9 455.6 388.9 456.0 389.9 456.4 390.9 456.9 391.9 457.4 392.9 458.0 393.9 458.7 394.9 459.4 395.9 460.1 396.9 461.0 397.9 462.0 398.9 463.0 399.9 464.1 400.9 465.4 401.9 466.8 402.9 468.3 403.9 469.9 404.9 471.6 405.9 473.5 406.9 475.5 407.9 477.7 408.9 480.0 409.9 482.5 410.9 485.2 411.9 488.0 412.9 491.1 413.9 494.2 414.9 497.6 415.9 501.2 416.9 504.9 417.9 508.9 418.9 513.0 419.9 517.3 420.9 521.7 421.9 526.4 422.9 531.2 423.9 536.1 424.9 541.2 425.9 546.4 426.9 551.8 427.9 557.2 428.9 562.7 429.9 568.3 430.9 574.0 431.9 579.7 432.9 585.4 433.9 591.0 434.9 596.7 435.9 602.3 436.9 607.8 437.9 613.2 438.9 618.4 439.9 623.5 440.9 628.5 441.9 633.2 442.9 637.6 443.9 641.9 444.9 645.8 445.9 649.5 446.9 652.8 447.9 655.8 448.9 658.4 449.9 660.7 450.9 662.5 451.9 664.0 452.9 665.1 453.9 665.8 454.9 666.0 455.9 665.9 456.9 665.4 457.9 664.5 458.9 663.2 459.9 661.5 460.9 659.5 461.9 657.2 462.9 654.5 463.9 651.5 464.9 648.2 465.9 644.6 466.9 640.7 467.9 636.6 468.9 632.2 469.9 627.7 470.9 622.9 471.9 618.0 472.9 613.0 473.9 607.8 474.9 602.5 475.9 597.2 476.9 591.7 477.9 586.3 478.9 580.9 479.9 575.4 480.9 570.0 481.9 564.6 482.9 559.3 483.9 554.1 484.9 548.9 485.9 543.9 486.9 538.9 487.9 534.1 488.9 529.5 489.9 525.0 490.9 520.6 491.9 516.4 492.9 512.4 493.9 508.5 494.9 504.8 495.9 501.2 496.9 497.9 497.9 494.7 498.9 491.7 499.9 488.8 500.9 486.1 501.9 483.6 502.9 481.2 503.9 478.9 504.9 476.9 505.9 474.9 506.9 473.1 507.9 471.4 508.9 469.9 509.9 468.4 510.9 467.1 511.9 465.8 512.9 464.7 513.9 463.7 514.9 462.7 515.9 461.8 516.9 461.0 517.9 460.3 518.9 459.7 519.9 459.1 520.9 458.5 521.9 458.0 522.9 457.6 523.9 457.2 524.9 456.8 525.9 456.5 526.9 456.2 527.9 456.0 528.9 455.7 529.9 455.5 530.9 455.3 531.9 455.2 532.9 455.0 533.9 454.9 534.9 454.8 535.9 454.7 536.9 454.6 537.9 454.5 538.9 454.4 539.9 454.4 540.9 454.3 541.9 454.2 542.9 454.2 543.9 454.2 544.9 454.1 545.9 454.1 546.9 454.1 547.9 454.0 548.9 454.0 549.9 454.0 550.9 454.0 551.9 454.0 552.9 453.9 553.9 453.9 554.9 453.9 555.9 453.9 556.9 453.9 557.9 453.9 558.9 453.9 559.9 453.9 560.9 453.9 561.9 453.8 562.9 453.8 563.9 453.8 564.9 453.8 565.9 453.8 566.9 453.8 567.9 453.8 568.9 453.8 569.9 453.8 570.9 453.8 571.9 453.8 572.9 453.8 573.9 453.8 574.9 453.8 575.9 453.8 576.9 453.8 577.9 453.8 578.9 453.8 579.9 453.8 580.9 453.8 581.9 453.8 582.9 453.8 583.9 453.8 584.9 453.8 585.9 453.7 586.9 453.7 587.9 453.7 588.9 453.7 589.9 453.7 590.9 453.7 591.9 453.7 592.9 453.7 593.9 453.7 594.9 453.7 595.9 453.7 596.9 453.7 597.9 453.7 598.9 453.7 599.9 453.7 600.9 453.7 601.9 453.7 602.9 453.7 603.9 453.7 604.9 453.7 605.9 453.7 606.9 453.7 607.9 453.7 608.9 453.7 609.9 453.7 610.9 453.7 611.9 453.7 612.9 453.7 613.9 453.7 614.9 453.7 615.9 453.7 616.9 453.7 617.9 453.7 618.9 453.7 619.9 453.7 620.9 453.7 621.9 453.7 622.9 453.7 623.9 453.7 624.9 453.7 625.9 453.7 626.9 453.7 627.9 453.7 628.9 453.7 629.9 453.7 630.9 453.7 631.9 453.7 632.9 453.7 633.9 453.7 634.9 453.7 635.9 453.7 636.9 453.7 637.9 453.7 638.9 453.7 639.9 453.7 640.9 453.7 641.9 453.7 642.9 453.7 643.9 453.7 644.9 453.7 645.9 453.7 646.9 453.7 647.9 453.7 648.9 453.7 649.9 453.7 650.9 453.7 651.9 453.7 652.9 453.7 653.9 453.7 654.9 453.7 655.9 453.7 656.9 453.7 657.9 453.7 658.9 453.7 659.9 453.7 660.9 453.7 661.9 453.7 662.9 453.7 663.9 453.7 664.9 453.7 665.9 453.7 666.9 453.7 667.9 453.7 668.9 453.7 669.9 453.7 670.9 453.7 671.9 453.7 672.9 453.7 673.9 453.7 674.9 453.7 675.9 453.7 676.9 453.7 677.9 453.7 678.9 453.7 679.9 453.7 680.9 453.7 681.9 453.7 682.9 453.7 683.9 453.7 684.9 453.7 685.9 453.7 686.9 453.7 687.9 453.7 688.9 453.7 689.9 453.7 690.9 453.7 691.9 453.7 692.9 453.7 693.9 453.7 694.9 453.7 695.9 453.7 696.9 453.7 697.9 453.7 698.9 453.7 699.9 453.7 700.9 453.7 701.9 453.7 702.9 453.7 703.9 453.7 704.9 453.7 705.9 453.7 706.9 453.7 707.9 453.7 708.9 453.7 709.9 453.7 710.9 453.7 711.9 453.7 712.9 453.7 713.9 453.7 714.9 453.7 715.9 453.7 716.9 453.7 717.9 453.7 718.9 453.7 719.9 453.7 720.9 453.7 721.9 453.7 722.9 453.7 723.9 453.7 724.9 453.7 725.9 453.7 726.9 453.7 727.9 453.7 728.9 453.7 729.9 453.7 730.9 453.7 731.9 453.7 732.9 453.7 733.9 453.7 734.9 453.7 735.9 453.7 736.9 453.7 737.9 453.7 738.9 453.7 739.9 453.7 740.9 453.7 741.9 453.7 742.9 453.7 743.9 453.7 744.9 453.7 745.9 453.7 746.9 453.7 747.9 453.7 748.9 453.7 749.9 453.7 750.9 453.7 751.9 453.7 752.9 453.7 753.9 453.7 754.9 453.7 755.9 453.7 756.9 453.7" stroke="#ff0000" stroke-width="2.6" stroke-linecap="round" stroke-linejoin="round" fill="none"/>
<path d="M86.25 452.32 L755.20 452.32" stroke="#000" stroke-width="2.25" stroke-dasharray="2.15 3.7" fill="none"/>
</g>
<text x="140.01" y="740.20">5526</text>
<text x="241.56" y="740.20">5526.3</text>
<text x="352.94" y="740.20">5526.6</text>
<text x="464.32" y="740.20">5526.9</text>
<text x="575.71" y="740.20">5527.2</text>
<text x="687.09" y="740.20">5527.5</text>
<text x="35.99" y="720.70">0.96</text>
<text x="35.99" y="655.83">0.97</text>
<text x="35.99" y="590.96">0.98</text>
<text x="35.99" y="526.09">0.99</text>
<path d="M42.85 461.22 L41.24 461.22 L41.24 451.89 L37.89 451.89 L37.89 450.75 Q40.31 450.61 40.97 449.84 Q41.44 449.23 41.66 448.25 L42.85 448.25Z" fill="#000"/>
<text x="46.16" y="461.22">.00</text>
<text x="332.50" y="767.70">Lambda (angstrom)</text>
<path d="M5.30 -11.91 L1.59 0.00 M5.30 -11.91 L9.01 0.00 M5.30 -10.21 L8.48 0.00 M2.65 -3.40 L7.42 -3.40 M0.53 0.00 L3.71 0.00 M6.89 0.00 L10.07 0.00 M13.25 -7.94 L13.25 0.00 M13.78 -7.94 L13.78 0.00 M13.78 -4.54 L14.31 -6.24 L15.37 -7.37 L16.43 -7.94 L18.02 -7.94 L18.55 -7.37 L18.55 -6.80 L18.02 -6.24 L17.49 -6.80 L18.02 -7.37 M11.66 -7.94 L13.78 -7.94 M11.66 0.00 L15.37 0.00 M22.26 -11.91 L22.26 0.00 M22.79 -11.91 L22.79 0.00 M22.79 -6.24 L23.85 -7.37 L24.91 -7.94 L25.97 -7.94 L27.56 -7.37 L28.62 -6.24 L29.15 -4.54 L29.15 -3.40 L28.62 -1.70 L27.56 -0.57 L25.97 0.00 L24.91 0.00 L23.85 -0.57 L22.79 -1.70 M25.97 -7.94 L27.03 -7.37 L28.09 -6.24 L28.62 -4.54 L28.62 -3.40 L28.09 -1.70 L27.03 -0.57 L25.97 0.00 M20.67 -11.91 L22.79 -11.91 M33.39 -11.91 L32.86 -11.34 L33.39 -10.77 L33.92 -11.34 L33.39 -11.91 M33.39 -7.94 L33.39 0.00 M33.92 -7.94 L33.92 0.00 M31.80 -7.94 L33.92 -7.94 M31.80 0.00 L35.51 0.00 M39.22 -11.91 L39.22 -2.27 L39.75 -0.57 L40.81 0.00 L41.87 0.00 L42.93 -0.57 L43.46 -1.70 M39.75 -11.91 L39.75 -2.27 L40.28 -0.57 L40.81 0.00 M37.63 -7.94 L41.87 -7.94 M47.17 -7.94 L47.17 0.00 M47.70 -7.94 L47.70 0.00 M47.70 -4.54 L48.23 -6.24 L49.29 -7.37 L50.35 -7.94 L51.94 -7.94 L52.47 -7.37 L52.47 -6.80 L51.94 -6.24 L51.41 -6.80 L51.94 -7.37 M45.58 -7.94 L47.70 -7.94 M45.58 0.00 L49.29 0.00 M56.18 -6.80 L56.18 -6.24 L55.65 -6.24 L55.65 -6.80 L56.18 -7.37 L57.24 -7.94 L59.36 -7.94 L60.42 -7.37 L60.95 -6.80 L61.48 -5.67 L61.48 -1.70 L62.01 -0.57 L62.54 0.00 M60.95 -6.80 L60.95 -1.70 L61.48 -0.57 L62.54 0.00 L63.07 0.00 M60.95 -5.67 L60.42 -5.10 L57.24 -4.54 L55.65 -3.97 L55.12 -2.83 L55.12 -1.70 L55.65 -0.57 L57.24 0.00 L58.83 0.00 L59.89 -0.57 L60.95 -1.70 M57.24 -4.54 L56.18 -3.97 L55.65 -2.83 L55.65 -1.70 L56.18 -0.57 L57.24 0.00 M66.78 -7.94 L66.78 0.00 M67.31 -7.94 L67.31 0.00 M67.31 -4.54 L67.84 -6.24 L68.90 -7.37 L69.96 -7.94 L71.55 -7.94 L72.08 -7.37 L72.08 -6.80 L71.55 -6.24 L71.02 -6.80 L71.55 -7.37 M65.19 -7.94 L67.31 -7.94 M65.19 0.00 L68.90 0.00 M75.26 -7.94 L78.44 0.00 M75.79 -7.94 L78.44 -1.13 M81.62 -7.94 L78.44 0.00 L77.38 2.27 L76.32 3.40 L75.26 3.97 L74.73 3.97 L74.20 3.40 L74.73 2.83 L75.26 3.40 M74.20 -7.94 L77.38 -7.94 M79.50 -7.94 L82.68 -7.94 M94.34 -11.91 L94.34 0.00 M94.87 -11.91 L94.87 0.00 M98.05 -8.50 L98.05 -3.97 M92.75 -11.91 L101.23 -11.91 L101.23 -8.50 L100.70 -11.91 M94.87 -6.24 L98.05 -6.24 M92.75 0.00 L96.46 0.00 M104.94 -11.91 L104.94 0.00 M105.47 -11.91 L105.47 0.00 M103.35 -11.91 L105.47 -11.91 M103.35 0.00 L107.06 0.00 M110.77 -7.94 L110.77 -1.70 L111.30 -0.57 L112.89 0.00 L113.95 0.00 L115.54 -0.57 L116.60 -1.70 M111.30 -7.94 L111.30 -1.70 L111.83 -0.57 L112.89 0.00 M116.60 -7.94 L116.60 0.00 M117.13 -7.94 L117.13 0.00 M109.18 -7.94 L111.30 -7.94 M115.01 -7.94 L117.13 -7.94 M116.60 0.00 L118.72 0.00 M121.90 -7.94 L127.73 0.00 M122.43 -7.94 L128.26 0.00 M128.26 -7.94 L121.90 0.00 M120.84 -7.94 L124.02 -7.94 M126.14 -7.94 L129.32 -7.94 M120.84 0.00 L124.02 0.00 M126.14 0.00 L129.32 0.00" transform="translate(22.70 566.40) rotate(-90) translate(-65.19 0)" fill="none" stroke="#000" stroke-width="1.22" stroke-linecap="round" stroke-linejoin="round"/>
<path d="M9.25 -10.08 L9.83 -11.76 L9.83 -8.40 L9.25 -10.08 L8.09 -11.20 L6.36 -11.76 L4.62 -11.76 L2.89 -11.20 L1.73 -10.08 L1.73 -8.40 L2.31 -7.28 L4.05 -6.16 L7.51 -5.04 L8.67 -4.48 L9.25 -3.36 L9.25 -1.68 L8.67 -0.56 M2.31 -8.40 L2.89 -7.28 L4.05 -6.72 L7.51 -5.60 L8.67 -5.04 L9.25 -3.92 M2.89 -11.20 L2.31 -10.08 L2.31 -8.96 L2.89 -7.84 L4.05 -7.28 L7.51 -6.16 L9.25 -5.04 L9.83 -3.92 L9.83 -2.24 L9.25 -1.12 L8.67 -0.56 L6.94 0.00 L5.20 0.00 L3.47 -0.56 L2.31 -1.68 L1.73 -3.36 L1.73 0.00 L2.31 -1.68 M20.23 -5.60 L20.23 -6.16 L19.65 -6.16 L19.65 -5.04 L20.81 -5.04 L20.81 -6.16 L19.65 -7.28 L18.50 -7.84 L16.76 -7.84 L15.03 -7.28 L13.87 -6.16 L13.29 -4.48 L13.29 -3.36 L13.87 -1.68 L15.03 -0.56 L16.76 0.00 L17.92 0.00 L19.65 -0.56 L20.81 -1.68 M14.45 -6.16 L13.87 -5.04 L13.87 -2.80 L14.45 -1.68 M16.76 -7.84 L15.61 -7.28 L15.03 -6.72 L14.45 -5.04 L14.45 -2.80 L15.03 -1.12 L15.61 -0.56 L16.76 0.00 M35.37 -11.76 L35.37 0.00 M35.86 -11.20 L35.86 -0.56 M36.34 -11.76 L36.34 0.00 M33.92 -11.76 L37.80 -11.76 M33.92 0.00 L37.80 0.00 M34.40 -11.76 L35.37 -11.20 M34.89 -11.76 L35.37 -10.64 M36.83 -11.76 L36.34 -10.64 M37.32 -11.76 L36.34 -11.20 M35.37 -0.56 L34.40 0.00 M35.37 -1.12 L34.89 0.00 M36.34 -1.12 L36.83 0.00 M36.34 -0.56 L37.32 0.00 M41.20 -11.76 L41.20 0.00 M41.69 -11.20 L41.69 -0.56 M42.17 -11.76 L42.17 0.00 M39.74 -11.76 L43.63 -11.76 M39.74 0.00 L43.63 0.00 M40.23 -11.76 L41.20 -11.20 M40.71 -11.76 L41.20 -10.64 M42.66 -11.76 L42.17 -10.64 M43.14 -11.76 L42.17 -11.20 M41.20 -0.56 L40.23 0.00 M41.20 -1.12 L40.71 0.00 M42.17 -1.12 L42.66 0.00 M42.17 -0.56 L43.14 0.00 M61.36 -10.08 L61.36 0.00 M61.94 -10.64 L61.94 -0.56 M62.52 -11.76 L62.52 0.00 M62.52 -11.76 L56.16 -3.36 L65.41 -3.36 M59.63 0.00 L64.25 0.00 M61.36 -0.56 L60.20 0.00 M61.36 -1.12 L60.78 0.00 M62.52 -1.12 L63.09 0.00 M62.52 -0.56 L63.67 0.00 M68.87 -9.52 L68.87 -8.96 L69.45 -8.96 L69.45 -9.52 L68.87 -9.52 M68.87 -10.08 L69.45 -10.08 L70.03 -9.52 L70.03 -8.96 L69.45 -8.40 L68.87 -8.40 L68.30 -8.96 L68.30 -9.52 L68.87 -10.64 L69.45 -11.20 L71.19 -11.76 L73.50 -11.76 L75.23 -11.20 L75.81 -10.64 L76.39 -9.52 L76.39 -8.40 L75.81 -7.28 L74.08 -6.16 L71.19 -5.04 L70.03 -4.48 L68.87 -3.36 L68.30 -1.68 L68.30 0.00 M75.23 -10.64 L75.81 -9.52 L75.81 -8.40 L75.23 -7.28 M73.50 -11.76 L74.65 -11.20 L75.23 -9.52 L75.23 -8.40 L74.65 -7.28 L73.50 -6.16 L71.19 -5.04 M68.30 -1.12 L68.87 -1.68 L70.03 -1.68 L72.92 -1.12 L75.23 -1.12 L76.39 -1.68 M70.03 -1.68 L72.92 -0.56 L75.23 -0.56 L75.81 -1.12 M70.03 -1.68 L72.92 0.00 L75.23 0.00 L75.81 -0.56 L76.39 -1.68 L76.39 -2.80 M84.48 -10.08 L84.48 0.00 M85.06 -10.64 L85.06 -0.56 M85.64 -11.76 L85.64 0.00 M85.64 -11.76 L79.28 -3.36 L88.53 -3.36 M82.75 0.00 L87.37 0.00 M84.48 -0.56 L83.32 0.00 M84.48 -1.12 L83.90 0.00 M85.64 -1.12 L86.21 0.00 M85.64 -0.56 L86.79 0.00 M97.77 -10.08 L97.77 -9.52 L98.35 -9.52 L98.35 -10.08 L97.77 -10.08 M98.35 -10.64 L97.77 -10.64 L97.20 -10.08 L97.20 -9.52 L97.77 -8.96 L98.35 -8.96 L98.93 -9.52 L98.93 -10.08 L98.35 -11.20 L97.20 -11.76 L95.46 -11.76 L93.73 -11.20 L92.57 -10.08 L91.99 -8.96 L91.42 -6.72 L91.42 -3.36 L91.99 -1.68 L93.15 -0.56 L94.88 0.00 L96.04 0.00 L97.77 -0.56 L98.93 -1.68 L99.51 -3.36 L99.51 -3.92 L98.93 -5.60 L97.77 -6.72 L96.04 -7.28 L94.88 -7.28 L93.73 -6.72 L93.15 -6.16 L92.57 -5.04 M93.15 -10.08 L92.57 -8.96 L91.99 -6.72 L91.99 -3.36 L92.57 -1.68 L93.15 -1.12 M98.35 -1.68 L98.93 -2.80 L98.93 -4.48 L98.35 -5.60 M95.46 -11.76 L94.31 -11.20 L93.73 -10.64 L93.15 -9.52 L92.57 -7.28 L92.57 -3.36 L93.15 -1.68 L93.73 -0.56 L94.88 0.00 M96.04 0.00 L97.20 -0.56 L97.77 -1.12 L98.35 -2.80 L98.35 -4.48 L97.77 -6.16 L97.20 -6.72 L96.04 -7.28 M117.02 -11.76 L113.26 -0.56 M116.48 -10.08 L119.71 0.00 M117.02 -10.08 L120.25 0.00 M117.02 -11.76 L120.78 0.00 M114.33 -3.36 L119.17 -3.36 M112.18 0.00 L115.41 0.00 M118.10 0.00 L121.86 0.00 M113.26 -0.56 L112.72 0.00 M113.26 -0.56 L114.33 0.00 M119.71 -0.56 L118.63 0.00 M119.71 -1.12 L119.17 0.00 M120.25 -1.12 L121.32 0.00" transform="translate(395.80 230.00)" fill="none" stroke="#000" stroke-width="1.85" stroke-linecap="round" stroke-linejoin="round"/>
<path d="M5.38 -11.76 L1.61 -0.56 M4.84 -10.08 L8.06 0.00 M5.38 -10.08 L8.60 0.00 M5.38 -11.76 L9.14 0.00 M2.69 -3.36 L7.53 -3.36 M0.54 0.00 L3.76 0.00 M6.45 0.00 L10.21 0.00 M1.61 -0.56 L1.08 0.00 M1.61 -0.56 L2.69 0.00 M8.06 -0.56 L6.99 0.00 M8.06 -1.12 L7.53 0.00 M8.60 -1.12 L9.68 0.00 M16.53 -14.00 L15.37 -12.88 L14.22 -11.20 L13.06 -8.96 L12.48 -6.16 L12.48 -3.92 L13.06 -1.12 L14.22 1.12 L15.37 2.80 L16.53 3.92 M14.22 -10.64 L13.64 -8.96 L13.06 -6.72 L13.06 -3.36 L13.64 -1.12 L14.22 0.56 M15.37 -12.88 L14.80 -11.76 L14.22 -10.08 L13.64 -6.72 L13.64 -3.36 L14.22 0.00 L14.80 1.68 L15.37 2.80 M28.09 -10.08 L28.67 -11.76 L28.67 -8.40 L28.09 -10.08 L26.93 -11.20 L25.20 -11.76 L23.47 -11.76 L21.73 -11.20 L20.58 -10.08 L20.58 -8.40 L21.15 -7.28 L22.89 -6.16 L26.36 -5.04 L27.51 -4.48 L28.09 -3.36 L28.09 -1.68 L27.51 -0.56 M21.15 -8.40 L21.73 -7.28 L22.89 -6.72 L26.36 -5.60 L27.51 -5.04 L28.09 -3.92 M21.73 -11.20 L21.15 -10.08 L21.15 -8.96 L21.73 -7.84 L22.89 -7.28 L26.36 -6.16 L28.09 -5.04 L28.67 -3.92 L28.67 -2.24 L28.09 -1.12 L27.51 -0.56 L25.78 0.00 L24.04 0.00 L22.31 -0.56 L21.15 -1.68 L20.58 -3.36 L20.58 0.00 L21.15 -1.68 M39.07 -5.60 L39.07 -6.16 L38.49 -6.16 L38.49 -5.04 L39.65 -5.04 L39.65 -6.16 L38.49 -7.28 L37.34 -7.84 L35.60 -7.84 L33.87 -7.28 L32.71 -6.16 L32.14 -4.48 L32.14 -3.36 L32.71 -1.68 L33.87 -0.56 L35.60 0.00 L36.76 0.00 L38.49 -0.56 L39.65 -1.68 M33.29 -6.16 L32.71 -5.04 L32.71 -2.80 L33.29 -1.68 M35.60 -7.84 L34.45 -7.28 L33.87 -6.72 L33.29 -5.04 L33.29 -2.80 L33.87 -1.12 L34.45 -0.56 L35.60 0.00 M43.70 -14.00 L44.85 -12.88 L46.01 -11.20 L47.16 -8.96 L47.74 -6.16 L47.74 -3.92 L47.16 -1.12 L46.01 1.12 L44.85 2.80 L43.70 3.92 M46.01 -10.64 L46.59 -8.96 L47.16 -6.72 L47.16 -3.36 L46.59 -1.12 L46.01 0.56 M44.85 -12.88 L45.43 -11.76 L46.01 -10.08 L46.59 -6.72 L46.59 -3.36 L46.01 0.00 L45.43 1.68 L44.85 2.80 M62.19 -7.84 L72.02 -7.84 L72.02 -7.28 M62.19 -7.84 L62.19 -7.28 L72.02 -7.28 M62.19 -3.36 L72.02 -3.36 L72.02 -2.80 M62.19 -3.36 L62.19 -2.80 L72.02 -2.80 M89.94 -11.76 L88.20 -11.20 L87.05 -9.52 L86.47 -6.72 L86.47 -5.04 L87.05 -2.24 L88.20 -0.56 L89.94 0.00 L91.09 0.00 L92.83 -0.56 L93.98 -2.24 L94.56 -5.04 L94.56 -6.72 L93.98 -9.52 L92.83 -11.20 L91.09 -11.76 L89.94 -11.76 M88.20 -10.64 L87.62 -9.52 L87.05 -7.28 L87.05 -4.48 L87.62 -2.24 L88.20 -1.12 M92.83 -1.12 L93.40 -2.24 L93.98 -4.48 L93.98 -7.28 L93.40 -9.52 L92.83 -10.64 M89.94 -11.76 L88.78 -11.20 L88.20 -10.08 L87.62 -7.28 L87.62 -4.48 L88.20 -1.68 L88.78 -0.56 L89.94 0.00 M91.09 0.00 L92.25 -0.56 L92.83 -1.68 L93.40 -4.48 L93.40 -7.28 L92.83 -10.08 L92.25 -11.20 L91.09 -11.76 M98.90 -1.68 L98.38 -1.12 L98.38 -0.56 L98.90 0.00 L99.42 0.00 L99.94 -0.56 L99.94 -1.12 L99.42 -1.68 L98.90 -1.68 M98.90 -1.12 L98.90 -0.56 L99.42 -0.56 L99.42 -1.12 L98.90 -1.12 M106.64 -11.76 L104.91 -11.20 L104.33 -10.08 L104.33 -8.40 L104.91 -7.28 L106.64 -6.72 L108.95 -6.72 L110.69 -7.28 L111.27 -8.40 L111.27 -10.08 L110.69 -11.20 L108.95 -11.76 L106.64 -11.76 M105.48 -11.20 L104.91 -10.08 L104.91 -8.40 L105.48 -7.28 M110.11 -7.28 L110.69 -8.40 L110.69 -10.08 L110.11 -11.20 M106.64 -11.76 L106.06 -11.20 L105.48 -10.08 L105.48 -8.40 L106.06 -7.28 L106.64 -6.72 M108.95 -6.72 L109.53 -7.28 L110.11 -8.40 L110.11 -10.08 L109.53 -11.20 L108.95 -11.76 M106.64 -6.72 L104.91 -6.16 L104.33 -5.60 L103.75 -4.48 L103.75 -2.24 L104.33 -1.12 L104.91 -0.56 L106.64 0.00 L108.95 0.00 L110.69 -0.56 L111.27 -1.12 L111.84 -2.24 L111.84 -4.48 L111.27 -5.60 L110.69 -6.16 L108.95 -6.72 M104.91 -5.60 L104.33 -4.48 L104.33 -2.24 L104.91 -1.12 M110.69 -1.12 L111.27 -2.24 L111.27 -4.48 L110.69 -5.60 M106.64 -6.72 L105.48 -6.16 L104.91 -4.48 L104.91 -2.24 L105.48 -0.56 L106.64 0.00 M108.95 0.00 L110.11 -0.56 L110.69 -2.24 L110.69 -4.48 L110.11 -6.16 L108.95 -6.72 M115.89 -9.52 L115.89 -8.96 L116.47 -8.96 L116.47 -9.52 L115.89 -9.52 M115.89 -10.08 L116.47 -10.08 L117.05 -9.52 L117.05 -8.96 L116.47 -8.40 L115.89 -8.40 L115.31 -8.96 L115.31 -9.52 L115.89 -10.64 L116.47 -11.20 L118.20 -11.76 L120.51 -11.76 L122.25 -11.20 L122.83 -10.64 L123.40 -9.52 L123.40 -8.40 L122.83 -7.28 L121.09 -6.16 L118.20 -5.04 L117.05 -4.48 L115.89 -3.36 L115.31 -1.68 L115.31 0.00 M122.25 -10.64 L122.83 -9.52 L122.83 -8.40 L122.25 -7.28 M120.51 -11.76 L121.67 -11.20 L122.25 -9.52 L122.25 -8.40 L121.67 -7.28 L120.51 -6.16 L118.20 -5.04 M115.31 -1.12 L115.89 -1.68 L117.05 -1.68 L119.94 -1.12 L122.25 -1.12 L123.40 -1.68 M117.05 -1.68 L119.94 -0.56 L122.25 -0.56 L122.83 -1.12 M117.05 -1.68 L119.94 0.00 L122.25 0.00 L122.83 -0.56 L123.40 -1.68 L123.40 -2.80" transform="translate(395.80 253.80)" fill="none" stroke="#ff0000" stroke-width="1.85" stroke-linecap="round" stroke-linejoin="round"/>
<path d="M5.38 -11.76 L1.61 -0.56 M4.84 -10.08 L8.06 0.00 M5.38 -10.08 L8.60 0.00 M5.38 -11.76 L9.14 0.00 M2.69 -3.36 L7.53 -3.36 M0.54 0.00 L3.76 0.00 M6.45 0.00 L10.21 0.00 M1.61 -0.56 L1.08 0.00 M1.61 -0.56 L2.69 0.00 M8.06 -0.56 L6.99 0.00 M8.06 -1.12 L7.53 0.00 M8.60 -1.12 L9.68 0.00 M16.53 -14.00 L15.37 -12.88 L14.22 -11.20 L13.06 -8.96 L12.48 -6.16 L12.48 -3.92 L13.06 -1.12 L14.22 1.12 L15.37 2.80 L16.53 3.92 M14.22 -10.64 L13.64 -8.96 L13.06 -6.72 L13.06 -3.36 L13.64 -1.12 L14.22 0.56 M15.37 -12.88 L14.80 -11.76 L14.22 -10.08 L13.64 -6.72 L13.64 -3.36 L14.22 0.00 L14.80 1.68 L15.37 2.80 M28.09 -10.08 L28.67 -11.76 L28.67 -8.40 L28.09 -10.08 L26.93 -11.20 L25.20 -11.76 L23.47 -11.76 L21.73 -11.20 L20.58 -10.08 L20.58 -8.40 L21.15 -7.28 L22.89 -6.16 L26.36 -5.04 L27.51 -4.48 L28.09 -3.36 L28.09 -1.68 L27.51 -0.56 M21.15 -8.40 L21.73 -7.28 L22.89 -6.72 L26.36 -5.60 L27.51 -5.04 L28.09 -3.92 M21.73 -11.20 L21.15 -10.08 L21.15 -8.96 L21.73 -7.84 L22.89 -7.28 L26.36 -6.16 L28.09 -5.04 L28.67 -3.92 L28.67 -2.24 L28.09 -1.12 L27.51 -0.56 L25.78 0.00 L24.04 0.00 L22.31 -0.56 L21.15 -1.68 L20.58 -3.36 L20.58 0.00 L21.15 -1.68 M39.07 -5.60 L39.07 -6.16 L38.49 -6.16 L38.49 -5.04 L39.65 -5.04 L39.65 -6.16 L38.49 -7.28 L37.34 -7.84 L35.60 -7.84 L33.87 -7.28 L32.71 -6.16 L32.14 -4.48 L32.14 -3.36 L32.71 -1.68 L33.87 -0.56 L35.60 0.00 L36.76 0.00 L38.49 -0.56 L39.65 -1.68 M33.29 -6.16 L32.71 -5.04 L32.71 -2.80 L33.29 -1.68 M35.60 -7.84 L34.45 -7.28 L33.87 -6.72 L33.29 -5.04 L33.29 -2.80 L33.87 -1.12 L34.45 -0.56 L35.60 0.00 M43.70 -14.00 L44.85 -12.88 L46.01 -11.20 L47.16 -8.96 L47.74 -6.16 L47.74 -3.92 L47.16 -1.12 L46.01 1.12 L44.85 2.80 L43.70 3.92 M46.01 -10.64 L46.59 -8.96 L47.16 -6.72 L47.16 -3.36 L46.59 -1.12 L46.01 0.56 M44.85 -12.88 L45.43 -11.76 L46.01 -10.08 L46.59 -6.72 L46.59 -3.36 L46.01 0.00 L45.43 1.68 L44.85 2.80 M62.19 -7.84 L72.02 -7.84 L72.02 -7.28 M62.19 -7.84 L62.19 -7.28 L72.02 -7.28 M62.19 -3.36 L72.02 -3.36 L72.02 -2.80 M62.19 -3.36 L62.19 -2.80 L72.02 -2.80 M89.94 -10.64 L89.94 0.00 M90.51 -10.64 L90.51 -0.56 M91.09 -11.76 L91.09 0.00 M91.09 -11.76 L89.36 -10.08 L88.20 -9.52 M87.62 0.00 L93.40 0.00 M89.94 -0.56 L88.78 0.00 M89.94 -1.12 L89.36 0.00 M91.09 -1.12 L91.67 0.00 M91.09 -0.56 L92.25 0.00 M98.90 -1.68 L98.38 -1.12 L98.38 -0.56 L98.90 0.00 L99.42 0.00 L99.94 -0.56 L99.94 -1.12 L99.42 -1.68 L98.90 -1.68 M98.90 -1.12 L98.90 -0.56 L99.42 -0.56 L99.42 -1.12 L98.90 -1.12 M104.33 -9.52 L104.33 -8.96 L104.91 -8.96 L104.91 -9.52 L104.33 -9.52 M104.33 -10.08 L104.91 -10.08 L105.48 -9.52 L105.48 -8.96 L104.91 -8.40 L104.33 -8.40 L103.75 -8.96 L103.75 -9.52 L104.33 -10.64 L104.91 -11.20 L106.64 -11.76 L108.95 -11.76 L110.69 -11.20 L111.27 -10.64 L111.84 -9.52 L111.84 -8.40 L111.27 -7.28 L109.53 -6.16 L106.64 -5.04 L105.48 -4.48 L104.33 -3.36 L103.75 -1.68 L103.75 0.00 M110.69 -10.64 L111.27 -9.52 L111.27 -8.40 L110.69 -7.28 M108.95 -11.76 L110.11 -11.20 L110.69 -9.52 L110.69 -8.40 L110.11 -7.28 L108.95 -6.16 L106.64 -5.04 M103.75 -1.12 L104.33 -1.68 L105.48 -1.68 L108.38 -1.12 L110.69 -1.12 L111.84 -1.68 M105.48 -1.68 L108.38 -0.56 L110.69 -0.56 L111.27 -1.12 M105.48 -1.68 L108.38 0.00 L110.69 0.00 L111.27 -0.56 L111.84 -1.68 L111.84 -2.80 M117.22 -0.56 L116.70 0.00 L116.18 0.00 L115.66 -0.56 L115.66 -1.12 L116.18 -1.68 L116.70 -1.68 L117.22 -1.12 L117.22 0.56 L116.70 1.68 L115.66 2.24 M116.18 -1.12 L116.18 -0.56 L116.70 -0.56 L116.70 -1.12 L116.18 -1.12 M116.70 0.00 L117.22 0.56 M117.22 -0.56 L116.70 1.68 M124.50 -11.76 L122.77 -11.20 L121.61 -9.52 L121.03 -6.72 L121.03 -5.04 L121.61 -2.24 L122.77 -0.56 L124.50 0.00 L125.66 0.00 L127.39 -0.56 L128.55 -2.24 L129.13 -5.04 L129.13 -6.72 L128.55 -9.52 L127.39 -11.20 L125.66 -11.76 L124.50 -11.76 M122.77 -10.64 L122.19 -9.52 L121.61 -7.28 L121.61 -4.48 L122.19 -2.24 L122.77 -1.12 M127.39 -1.12 L127.97 -2.24 L128.55 -4.48 L128.55 -7.28 L127.97 -9.52 L127.39 -10.64 M124.50 -11.76 L123.35 -11.20 L122.77 -10.08 L122.19 -7.28 L122.19 -4.48 L122.77 -1.68 L123.35 -0.56 L124.50 0.00 M125.66 0.00 L126.81 -0.56 L127.39 -1.68 L127.97 -4.48 L127.97 -7.28 L127.39 -10.08 L126.81 -11.20 L125.66 -11.76 M133.46 -1.68 L132.94 -1.12 L132.94 -0.56 L133.46 0.00 L133.98 0.00 L134.50 -0.56 L134.50 -1.12 L133.98 -1.68 L133.46 -1.68 M133.46 -1.12 L133.46 -0.56 L133.98 -0.56 L133.98 -1.12 L133.46 -1.12 M141.78 -11.76 L140.05 -11.20 L138.89 -9.52 L138.32 -6.72 L138.32 -5.04 L138.89 -2.24 L140.05 -0.56 L141.78 0.00 L142.94 0.00 L144.67 -0.56 L145.83 -2.24 L146.41 -5.04 L146.41 -6.72 L145.83 -9.52 L144.67 -11.20 L142.94 -11.76 L141.78 -11.76 M140.05 -10.64 L139.47 -9.52 L138.89 -7.28 L138.89 -4.48 L139.47 -2.24 L140.05 -1.12 M144.67 -1.12 L145.25 -2.24 L145.83 -4.48 L145.83 -7.28 L145.25 -9.52 L144.67 -10.64 M141.78 -11.76 L140.63 -11.20 L140.05 -10.08 L139.47 -7.28 L139.47 -4.48 L140.05 -1.68 L140.63 -0.56 L141.78 0.00 M142.94 0.00 L144.10 -0.56 L144.67 -1.68 L145.25 -4.48 L145.25 -7.28 L144.67 -10.08 L144.10 -11.20 L142.94 -11.76 M151.78 -0.56 L151.26 0.00 L150.74 0.00 L150.22 -0.56 L150.22 -1.12 L150.74 -1.68 L151.26 -1.68 L151.78 -1.12 L151.78 0.56 L151.26 1.68 L150.22 2.24 M150.74 -1.12 L150.74 -0.56 L151.26 -0.56 L151.26 -1.12 L150.74 -1.12 M151.26 0.00 L151.78 0.56 M151.78 -0.56 L151.26 1.68 M156.75 -7.84 L156.75 0.00 M157.33 -7.28 L157.33 -0.56 M155.02 -7.84 L157.91 -7.84 L157.91 0.00 M157.91 -5.60 L158.49 -6.72 L159.07 -7.28 L160.22 -7.84 L161.96 -7.84 L163.11 -7.28 L163.69 -6.72 L164.27 -5.04 L164.27 0.00 M163.11 -6.72 L163.69 -5.04 L163.69 -0.56 M161.96 -7.84 L162.53 -7.28 L163.11 -5.60 L163.11 0.00 M155.02 0.00 L159.64 0.00 M161.38 0.00 L166.00 0.00 M155.60 -7.84 L156.75 -7.28 M156.18 -7.84 L156.75 -6.72 M156.75 -0.56 L155.60 0.00 M156.75 -1.12 L156.18 0.00 M157.91 -1.12 L158.49 0.00 M157.91 -0.56 L159.07 0.00 M163.11 -0.56 L161.96 0.00 M163.11 -1.12 L162.53 0.00 M164.27 -1.12 L164.85 0.00 M164.27 -0.56 L165.42 0.00 M172.36 -7.84 L170.63 -7.28 L169.47 -6.16 L168.89 -4.48 L168.89 -3.36 L169.47 -1.68 L170.63 -0.56 L172.36 0.00 L173.52 0.00 L175.25 -0.56 L176.41 -1.68 L176.98 -3.36 L176.98 -4.48 L176.41 -6.16 L175.25 -7.28 L173.52 -7.84 L172.36 -7.84 M170.05 -6.16 L169.47 -5.04 L169.47 -2.80 L170.05 -1.68 M175.83 -1.68 L176.41 -2.80 L176.41 -5.04 L175.83 -6.16 M172.36 -7.84 L171.20 -7.28 L170.63 -6.72 L170.05 -5.04 L170.05 -2.80 L170.63 -1.12 L171.20 -0.56 L172.36 0.00 M173.52 0.00 L174.67 -0.56 L175.25 -1.12 L175.83 -2.80 L175.83 -5.04 L175.25 -6.72 L174.67 -7.28 L173.52 -7.84 M181.61 -7.84 L181.61 0.00 M182.19 -7.28 L182.19 -0.56 M179.87 -7.84 L182.76 -7.84 L182.76 0.00 M182.76 -5.60 L183.34 -6.72 L183.92 -7.28 L185.08 -7.84 L186.81 -7.84 L187.97 -7.28 L188.54 -6.72 L189.12 -5.04 L189.12 0.00 M187.97 -6.72 L188.54 -5.04 L188.54 -0.56 M186.81 -7.84 L187.39 -7.28 L187.97 -5.60 L187.97 0.00 M179.87 0.00 L184.50 0.00 M186.23 0.00 L190.86 0.00 M180.45 -7.84 L181.61 -7.28 M181.03 -7.84 L181.61 -6.72 M181.61 -0.56 L180.45 0.00 M181.61 -1.12 L181.03 0.00 M182.76 -1.12 L183.34 0.00 M182.76 -0.56 L183.92 0.00 M187.97 -0.56 L186.81 0.00 M187.97 -1.12 L187.39 0.00 M189.12 -1.12 L189.70 0.00 M189.12 -0.56 L190.28 0.00 M194.90 -4.48 L201.26 -4.48 L201.26 -5.60 L200.68 -6.72 L200.10 -7.28 L198.37 -7.84 L197.21 -7.84 L195.48 -7.28 L194.32 -6.16 L193.75 -4.48 L193.75 -3.36 L194.32 -1.68 L195.48 -0.56 L197.21 0.00 L198.37 0.00 L200.10 -0.56 L201.26 -1.68 M200.68 -5.04 L200.68 -5.60 L200.10 -6.72 M194.90 -6.16 L194.32 -5.04 L194.32 -2.80 L194.90 -1.68 M200.10 -4.48 L200.10 -6.16 L199.53 -7.28 L198.37 -7.84 M197.21 -7.84 L196.06 -7.28 L195.48 -6.72 L194.90 -5.04 L194.90 -2.80 L195.48 -1.12 L196.06 -0.56 L197.21 0.00" transform="translate(395.80 277.10)" fill="none" stroke="#0000ff" stroke-width="1.85" stroke-linecap="round" stroke-linejoin="round"/>
<path d="M9.25 -10.08 L9.83 -11.76 L9.83 -8.40 L9.25 -10.08 L8.09 -11.20 L6.36 -11.76 L4.62 -11.76 L2.89 -11.20 L1.73 -10.08 L1.73 -8.40 L2.31 -7.28 L4.05 -6.16 L7.51 -5.04 L8.67 -4.48 L9.25 -3.36 L9.25 -1.68 L8.67 -0.56 M2.31 -8.40 L2.89 -7.28 L4.05 -6.72 L7.51 -5.60 L8.67 -5.04 L9.25 -3.92 M2.89 -11.20 L2.31 -10.08 L2.31 -8.96 L2.89 -7.84 L4.05 -7.28 L7.51 -6.16 L9.25 -5.04 L9.83 -3.92 L9.83 -2.24 L9.25 -1.12 L8.67 -0.56 L6.94 0.00 L5.20 0.00 L3.47 -0.56 L2.31 -1.68 L1.73 -3.36 L1.73 0.00 L2.31 -1.68 M20.23 -5.60 L20.23 -6.16 L19.65 -6.16 L19.65 -5.04 L20.81 -5.04 L20.81 -6.16 L19.65 -7.28 L18.50 -7.84 L16.76 -7.84 L15.03 -7.28 L13.87 -6.16 L13.29 -4.48 L13.29 -3.36 L13.87 -1.68 L15.03 -0.56 L16.76 0.00 L17.92 0.00 L19.65 -0.56 L20.81 -1.68 M14.45 -6.16 L13.87 -5.04 L13.87 -2.80 L14.45 -1.68 M16.76 -7.84 L15.61 -7.28 L15.03 -6.72 L14.45 -5.04 L14.45 -2.80 L15.03 -1.12 L15.61 -0.56 L16.76 0.00 M35.37 -11.76 L35.37 0.00 M35.86 -11.20 L35.86 -0.56 M36.34 -11.76 L36.34 0.00 M33.92 -11.76 L37.80 -11.76 M33.92 0.00 L37.80 0.00 M34.40 -11.76 L35.37 -11.20 M34.89 -11.76 L35.37 -10.64 M36.83 -11.76 L36.34 -10.64 M37.32 -11.76 L36.34 -11.20 M35.37 -0.56 L34.40 0.00 M35.37 -1.12 L34.89 0.00 M36.34 -1.12 L36.83 0.00 M36.34 -0.56 L37.32 0.00 M41.20 -11.76 L41.20 0.00 M41.69 -11.20 L41.69 -0.56 M42.17 -11.76 L42.17 0.00 M39.74 -11.76 L43.63 -11.76 M39.74 0.00 L43.63 0.00 M40.23 -11.76 L41.20 -11.20 M40.71 -11.76 L41.20 -10.64 M42.66 -11.76 L42.17 -10.64 M43.14 -11.76 L42.17 -11.20 M41.20 -0.56 L40.23 0.00 M41.20 -1.12 L40.71 0.00 M42.17 -1.12 L42.66 0.00 M42.17 -0.56 L43.14 0.00 M57.89 -11.76 L56.74 -6.16 L57.89 -7.28 L59.63 -7.84 L61.36 -7.84 L63.09 -7.28 L64.25 -6.16 L64.83 -4.48 L64.83 -3.36 L64.25 -1.68 L63.09 -0.56 L61.36 0.00 L59.63 0.00 L57.89 -0.56 L57.31 -1.12 L56.74 -2.24 L56.74 -2.80 L57.31 -3.36 L57.89 -3.36 L58.47 -2.80 L58.47 -2.24 L57.89 -1.68 L57.31 -1.68 M63.67 -6.16 L64.25 -5.04 L64.25 -2.80 L63.67 -1.68 M61.36 -7.84 L62.52 -7.28 L63.09 -6.72 L63.67 -5.04 L63.67 -2.80 L63.09 -1.12 L62.52 -0.56 L61.36 0.00 M57.31 -2.80 L57.31 -2.24 L57.89 -2.24 L57.89 -2.80 L57.31 -2.80 M57.89 -11.76 L63.67 -11.76 M57.89 -11.20 L62.52 -11.20 M57.89 -10.64 L60.20 -10.64 L62.52 -11.20 L63.67 -11.76 M69.45 -11.76 L68.30 -6.16 L69.45 -7.28 L71.19 -7.84 L72.92 -7.84 L74.65 -7.28 L75.81 -6.16 L76.39 -4.48 L76.39 -3.36 L75.81 -1.68 L74.65 -0.56 L72.92 0.00 L71.19 0.00 L69.45 -0.56 L68.87 -1.12 L68.30 -2.24 L68.30 -2.80 L68.87 -3.36 L69.45 -3.36 L70.03 -2.80 L70.03 -2.24 L69.45 -1.68 L68.87 -1.68 M75.23 -6.16 L75.81 -5.04 L75.81 -2.80 L75.23 -1.68 M72.92 -7.84 L74.08 -7.28 L74.65 -6.72 L75.23 -5.04 L75.23 -2.80 L74.65 -1.12 L74.08 -0.56 L72.92 0.00 M68.87 -2.80 L68.87 -2.24 L69.45 -2.24 L69.45 -2.80 L68.87 -2.80 M69.45 -11.76 L75.23 -11.76 M69.45 -11.20 L74.08 -11.20 M69.45 -10.64 L71.76 -10.64 L74.08 -11.20 L75.23 -11.76 M80.43 -9.52 L80.43 -8.96 L81.01 -8.96 L81.01 -9.52 L80.43 -9.52 M80.43 -10.08 L81.01 -10.08 L81.59 -9.52 L81.59 -8.96 L81.01 -8.40 L80.43 -8.40 L79.86 -8.96 L79.86 -9.52 L80.43 -10.64 L81.01 -11.20 L82.75 -11.76 L85.06 -11.76 L86.79 -11.20 L87.37 -10.64 L87.95 -9.52 L87.95 -8.40 L87.37 -7.28 L85.64 -6.16 L82.75 -5.04 L81.59 -4.48 L80.43 -3.36 L79.86 -1.68 L79.86 0.00 M86.79 -10.64 L87.37 -9.52 L87.37 -8.40 L86.79 -7.28 M85.06 -11.76 L86.21 -11.20 L86.79 -9.52 L86.79 -8.40 L86.21 -7.28 L85.06 -6.16 L82.75 -5.04 M79.86 -1.12 L80.43 -1.68 L81.59 -1.68 L84.48 -1.12 L86.79 -1.12 L87.95 -1.68 M81.59 -1.68 L84.48 -0.56 L86.79 -0.56 L87.37 -1.12 M81.59 -1.68 L84.48 0.00 L86.79 0.00 L87.37 -0.56 L87.95 -1.68 L87.95 -2.80 M97.77 -10.08 L97.77 -9.52 L98.35 -9.52 L98.35 -10.08 L97.77 -10.08 M98.35 -10.64 L97.77 -10.64 L97.20 -10.08 L97.20 -9.52 L97.77 -8.96 L98.35 -8.96 L98.93 -9.52 L98.93 -10.08 L98.35 -11.20 L97.20 -11.76 L95.46 -11.76 L93.73 -11.20 L92.57 -10.08 L91.99 -8.96 L91.42 -6.72 L91.42 -3.36 L91.99 -1.68 L93.15 -0.56 L94.88 0.00 L96.04 0.00 L97.77 -0.56 L98.93 -1.68 L99.51 -3.36 L99.51 -3.92 L98.93 -5.60 L97.77 -6.72 L96.04 -7.28 L94.88 -7.28 L93.73 -6.72 L93.15 -6.16 L92.57 -5.04 M93.15 -10.08 L92.57 -8.96 L91.99 -6.72 L91.99 -3.36 L92.57 -1.68 L93.15 -1.12 M98.35 -1.68 L98.93 -2.80 L98.93 -4.48 L98.35 -5.60 M95.46 -11.76 L94.31 -11.20 L93.73 -10.64 L93.15 -9.52 L92.57 -7.28 L92.57 -3.36 L93.15 -1.68 L93.73 -0.56 L94.88 0.00 M96.04 0.00 L97.20 -0.56 L97.77 -1.12 L98.35 -2.80 L98.35 -4.48 L97.77 -6.16 L97.20 -6.72 L96.04 -7.28 M117.02 -11.76 L113.26 -0.56 M116.48 -10.08 L119.71 0.00 M117.02 -10.08 L120.25 0.00 M117.02 -11.76 L120.78 0.00 M114.33 -3.36 L119.17 -3.36 M112.18 0.00 L115.41 0.00 M118.10 0.00 L121.86 0.00 M113.26 -0.56 L112.72 0.00 M113.26 -0.56 L114.33 0.00 M119.71 -0.56 L118.63 0.00 M119.71 -1.12 L119.17 0.00 M120.25 -1.12 L121.32 0.00" transform="translate(161.90 595.20)" fill="none" stroke="#000" stroke-width="1.85" stroke-linecap="round" stroke-linejoin="round"/>
<path d="M5.38 -11.76 L1.61 -0.56 M4.84 -10.08 L8.06 0.00 M5.38 -10.08 L8.60 0.00 M5.38 -11.76 L9.14 0.00 M2.69 -3.36 L7.53 -3.36 M0.54 0.00 L3.76 0.00 M6.45 0.00 L10.21 0.00 M1.61 -0.56 L1.08 0.00 M1.61 -0.56 L2.69 0.00 M8.06 -0.56 L6.99 0.00 M8.06 -1.12 L7.53 0.00 M8.60 -1.12 L9.68 0.00 M16.53 -14.00 L15.37 -12.88 L14.22 -11.20 L13.06 -8.96 L12.48 -6.16 L12.48 -3.92 L13.06 -1.12 L14.22 1.12 L15.37 2.80 L16.53 3.92 M14.22 -10.64 L13.64 -8.96 L13.06 -6.72 L13.06 -3.36 L13.64 -1.12 L14.22 0.56 M15.37 -12.88 L14.80 -11.76 L14.22 -10.08 L13.64 -6.72 L13.64 -3.36 L14.22 0.00 L14.80 1.68 L15.37 2.80 M28.09 -10.08 L28.67 -11.76 L28.67 -8.40 L28.09 -10.08 L26.93 -11.20 L25.20 -11.76 L23.47 -11.76 L21.73 -11.20 L20.58 -10.08 L20.58 -8.40 L21.15 -7.28 L22.89 -6.16 L26.36 -5.04 L27.51 -4.48 L28.09 -3.36 L28.09 -1.68 L27.51 -0.56 M21.15 -8.40 L21.73 -7.28 L22.89 -6.72 L26.36 -5.60 L27.51 -5.04 L28.09 -3.92 M21.73 -11.20 L21.15 -10.08 L21.15 -8.96 L21.73 -7.84 L22.89 -7.28 L26.36 -6.16 L28.09 -5.04 L28.67 -3.92 L28.67 -2.24 L28.09 -1.12 L27.51 -0.56 L25.78 0.00 L24.04 0.00 L22.31 -0.56 L21.15 -1.68 L20.58 -3.36 L20.58 0.00 L21.15 -1.68 M39.07 -5.60 L39.07 -6.16 L38.49 -6.16 L38.49 -5.04 L39.65 -5.04 L39.65 -6.16 L38.49 -7.28 L37.34 -7.84 L35.60 -7.84 L33.87 -7.28 L32.71 -6.16 L32.14 -4.48 L32.14 -3.36 L32.71 -1.68 L33.87 -0.56 L35.60 0.00 L36.76 0.00 L38.49 -0.56 L39.65 -1.68 M33.29 -6.16 L32.71 -5.04 L32.71 -2.80 L33.29 -1.68 M35.60 -7.84 L34.45 -7.28 L33.87 -6.72 L33.29 -5.04 L33.29 -2.80 L33.87 -1.12 L34.45 -0.56 L35.60 0.00 M43.70 -14.00 L44.85 -12.88 L46.01 -11.20 L47.16 -8.96 L47.74 -6.16 L47.74 -3.92 L47.16 -1.12 L46.01 1.12 L44.85 2.80 L43.70 3.92 M46.01 -10.64 L46.59 -8.96 L47.16 -6.72 L47.16 -3.36 L46.59 -1.12 L46.01 0.56 M44.85 -12.88 L45.43 -11.76 L46.01 -10.08 L46.59 -6.72 L46.59 -3.36 L46.01 0.00 L45.43 1.68 L44.85 2.80 M62.19 -7.84 L72.02 -7.84 L72.02 -7.28 M62.19 -7.84 L62.19 -7.28 L72.02 -7.28 M62.19 -3.36 L72.02 -3.36 L72.02 -2.80 M62.19 -3.36 L62.19 -2.80 L72.02 -2.80 M89.94 -11.76 L88.20 -11.20 L87.05 -9.52 L86.47 -6.72 L86.47 -5.04 L87.05 -2.24 L88.20 -0.56 L89.94 0.00 L91.09 0.00 L92.83 -0.56 L93.98 -2.24 L94.56 -5.04 L94.56 -6.72 L93.98 -9.52 L92.83 -11.20 L91.09 -11.76 L89.94 -11.76 M88.20 -10.64 L87.62 -9.52 L87.05 -7.28 L87.05 -4.48 L87.62 -2.24 L88.20 -1.12 M92.83 -1.12 L93.40 -2.24 L93.98 -4.48 L93.98 -7.28 L93.40 -9.52 L92.83 -10.64 M89.94 -11.76 L88.78 -11.20 L88.20 -10.08 L87.62 -7.28 L87.62 -4.48 L88.20 -1.68 L88.78 -0.56 L89.94 0.00 M91.09 0.00 L92.25 -0.56 L92.83 -1.68 L93.40 -4.48 L93.40 -7.28 L92.83 -10.08 L92.25 -11.20 L91.09 -11.76 M98.90 -1.68 L98.38 -1.12 L98.38 -0.56 L98.90 0.00 L99.42 0.00 L99.94 -0.56 L99.94 -1.12 L99.42 -1.68 L98.90 -1.68 M98.90 -1.12 L98.90 -0.56 L99.42 -0.56 L99.42 -1.12 L98.90 -1.12 M110.11 -10.08 L110.11 -9.52 L110.69 -9.52 L110.69 -10.08 L110.11 -10.08 M110.69 -10.64 L110.11 -10.64 L109.53 -10.08 L109.53 -9.52 L110.11 -8.96 L110.69 -8.96 L111.27 -9.52 L111.27 -10.08 L110.69 -11.20 L109.53 -11.76 L107.80 -11.76 L106.06 -11.20 L104.91 -10.08 L104.33 -8.96 L103.75 -6.72 L103.75 -3.36 L104.33 -1.68 L105.48 -0.56 L107.22 0.00 L108.38 0.00 L110.11 -0.56 L111.27 -1.68 L111.84 -3.36 L111.84 -3.92 L111.27 -5.60 L110.11 -6.72 L108.38 -7.28 L107.22 -7.28 L106.06 -6.72 L105.48 -6.16 L104.91 -5.04 M105.48 -10.08 L104.91 -8.96 L104.33 -6.72 L104.33 -3.36 L104.91 -1.68 L105.48 -1.12 M110.69 -1.68 L111.27 -2.80 L111.27 -4.48 L110.69 -5.60 M107.80 -11.76 L106.64 -11.20 L106.06 -10.64 L105.48 -9.52 L104.91 -7.28 L104.91 -3.36 L105.48 -1.68 L106.06 -0.56 L107.22 0.00 M108.38 0.00 L109.53 -0.56 L110.11 -1.12 L110.69 -2.80 L110.69 -4.48 L110.11 -6.16 L109.53 -6.72 L108.38 -7.28 M121.67 -10.08 L121.67 -9.52 L122.25 -9.52 L122.25 -10.08 L121.67 -10.08 M122.25 -10.64 L121.67 -10.64 L121.09 -10.08 L121.09 -9.52 L121.67 -8.96 L122.25 -8.96 L122.83 -9.52 L122.83 -10.08 L122.25 -11.20 L121.09 -11.76 L119.36 -11.76 L117.62 -11.20 L116.47 -10.08 L115.89 -8.96 L115.31 -6.72 L115.31 -3.36 L115.89 -1.68 L117.05 -0.56 L118.78 0.00 L119.94 0.00 L121.67 -0.56 L122.83 -1.68 L123.40 -3.36 L123.40 -3.92 L122.83 -5.60 L121.67 -6.72 L119.94 -7.28 L118.78 -7.28 L117.62 -6.72 L117.05 -6.16 L116.47 -5.04 M117.05 -10.08 L116.47 -8.96 L115.89 -6.72 L115.89 -3.36 L116.47 -1.68 L117.05 -1.12 M122.25 -1.68 L122.83 -2.80 L122.83 -4.48 L122.25 -5.60 M119.36 -11.76 L118.20 -11.20 L117.62 -10.64 L117.05 -9.52 L116.47 -7.28 L116.47 -3.36 L117.05 -1.68 L117.62 -0.56 L118.78 0.00 M119.94 0.00 L121.09 -0.56 L121.67 -1.12 L122.25 -2.80 L122.25 -4.48 L121.67 -6.16 L121.09 -6.72 L119.94 -7.28" transform="translate(161.90 620.90)" fill="none" stroke="#ff0000" stroke-width="1.85" stroke-linecap="round" stroke-linejoin="round"/>
<path d="M5.38 -11.76 L1.61 -0.56 M4.84 -10.08 L8.06 0.00 M5.38 -10.08 L8.60 0.00 M5.38 -11.76 L9.14 0.00 M2.69 -3.36 L7.53 -3.36 M0.54 0.00 L3.76 0.00 M6.45 0.00 L10.21 0.00 M1.61 -0.56 L1.08 0.00 M1.61 -0.56 L2.69 0.00 M8.06 -0.56 L6.99 0.00 M8.06 -1.12 L7.53 0.00 M8.60 -1.12 L9.68 0.00 M16.53 -14.00 L15.37 -12.88 L14.22 -11.20 L13.06 -8.96 L12.48 -6.16 L12.48 -3.92 L13.06 -1.12 L14.22 1.12 L15.37 2.80 L16.53 3.92 M14.22 -10.64 L13.64 -8.96 L13.06 -6.72 L13.06 -3.36 L13.64 -1.12 L14.22 0.56 M15.37 -12.88 L14.80 -11.76 L14.22 -10.08 L13.64 -6.72 L13.64 -3.36 L14.22 0.00 L14.80 1.68 L15.37 2.80 M28.09 -10.08 L28.67 -11.76 L28.67 -8.40 L28.09 -10.08 L26.93 -11.20 L25.20 -11.76 L23.47 -11.76 L21.73 -11.20 L20.58 -10.08 L20.58 -8.40 L21.15 -7.28 L22.89 -6.16 L26.36 -5.04 L27.51 -4.48 L28.09 -3.36 L28.09 -1.68 L27.51 -0.56 M21.15 -8.40 L21.73 -7.28 L22.89 -6.72 L26.36 -5.60 L27.51 -5.04 L28.09 -3.92 M21.73 -11.20 L21.15 -10.08 L21.15 -8.96 L21.73 -7.84 L22.89 -7.28 L26.36 -6.16 L28.09 -5.04 L28.67 -3.92 L28.67 -2.24 L28.09 -1.12 L27.51 -0.56 L25.78 0.00 L24.04 0.00 L22.31 -0.56 L21.15 -1.68 L20.58 -3.36 L20.58 0.00 L21.15 -1.68 M39.07 -5.60 L39.07 -6.16 L38.49 -6.16 L38.49 -5.04 L39.65 -5.04 L39.65 -6.16 L38.49 -7.28 L37.34 -7.84 L35.60 -7.84 L33.87 -7.28 L32.71 -6.16 L32.14 -4.48 L32.14 -3.36 L32.71 -1.68 L33.87 -0.56 L35.60 0.00 L36.76 0.00 L38.49 -0.56 L39.65 -1.68 M33.29 -6.16 L32.71 -5.04 L32.71 -2.80 L33.29 -1.68 M35.60 -7.84 L34.45 -7.28 L33.87 -6.72 L33.29 -5.04 L33.29 -2.80 L33.87 -1.12 L34.45 -0.56 L35.60 0.00 M43.70 -14.00 L44.85 -12.88 L46.01 -11.20 L47.16 -8.96 L47.74 -6.16 L47.74 -3.92 L47.16 -1.12 L46.01 1.12 L44.85 2.80 L43.70 3.92 M46.01 -10.64 L46.59 -8.96 L47.16 -6.72 L47.16 -3.36 L46.59 -1.12 L46.01 0.56 M44.85 -12.88 L45.43 -11.76 L46.01 -10.08 L46.59 -6.72 L46.59 -3.36 L46.01 0.00 L45.43 1.68 L44.85 2.80 M62.19 -7.84 L72.02 -7.84 L72.02 -7.28 M62.19 -7.84 L62.19 -7.28 L72.02 -7.28 M62.19 -3.36 L72.02 -3.36 L72.02 -2.80 M62.19 -3.36 L62.19 -2.80 L72.02 -2.80 M89.94 -10.64 L89.94 0.00 M90.51 -10.64 L90.51 -0.56 M91.09 -11.76 L91.09 0.00 M91.09 -11.76 L89.36 -10.08 L88.20 -9.52 M87.62 0.00 L93.40 0.00 M89.94 -0.56 L88.78 0.00 M89.94 -1.12 L89.36 0.00 M91.09 -1.12 L91.67 0.00 M91.09 -0.56 L92.25 0.00 M98.90 -1.68 L98.38 -1.12 L98.38 -0.56 L98.90 0.00 L99.42 0.00 L99.94 -0.56 L99.94 -1.12 L99.42 -1.68 L98.90 -1.68 M98.90 -1.12 L98.90 -0.56 L99.42 -0.56 L99.42 -1.12 L98.90 -1.12 M104.33 -9.52 L104.33 -8.96 L104.91 -8.96 L104.91 -9.52 L104.33 -9.52 M104.33 -10.08 L104.91 -10.08 L105.48 -9.52 L105.48 -8.96 L104.91 -8.40 L104.33 -8.40 L103.75 -8.96 L103.75 -9.52 L104.33 -10.64 L104.91 -11.20 L106.64 -11.76 L108.95 -11.76 L110.69 -11.20 L111.27 -10.64 L111.84 -9.52 L111.84 -8.40 L111.27 -7.28 L109.53 -6.16 L106.64 -5.04 L105.48 -4.48 L104.33 -3.36 L103.75 -1.68 L103.75 0.00 M110.69 -10.64 L111.27 -9.52 L111.27 -8.40 L110.69 -7.28 M108.95 -11.76 L110.11 -11.20 L110.69 -9.52 L110.69 -8.40 L110.11 -7.28 L108.95 -6.16 L106.64 -5.04 M103.75 -1.12 L104.33 -1.68 L105.48 -1.68 L108.38 -1.12 L110.69 -1.12 L111.84 -1.68 M105.48 -1.68 L108.38 -0.56 L110.69 -0.56 L111.27 -1.12 M105.48 -1.68 L108.38 0.00 L110.69 0.00 L111.27 -0.56 L111.84 -1.68 L111.84 -2.80 M117.22 -0.56 L116.70 0.00 L116.18 0.00 L115.66 -0.56 L115.66 -1.12 L116.18 -1.68 L116.70 -1.68 L117.22 -1.12 L117.22 0.56 L116.70 1.68 L115.66 2.24 M116.18 -1.12 L116.18 -0.56 L116.70 -0.56 L116.70 -1.12 L116.18 -1.12 M116.70 0.00 L117.22 0.56 M117.22 -0.56 L116.70 1.68 M124.50 -11.76 L122.77 -11.20 L121.61 -9.52 L121.03 -6.72 L121.03 -5.04 L121.61 -2.24 L122.77 -0.56 L124.50 0.00 L125.66 0.00 L127.39 -0.56 L128.55 -2.24 L129.13 -5.04 L129.13 -6.72 L128.55 -9.52 L127.39 -11.20 L125.66 -11.76 L124.50 -11.76 M122.77 -10.64 L122.19 -9.52 L121.61 -7.28 L121.61 -4.48 L122.19 -2.24 L122.77 -1.12 M127.39 -1.12 L127.97 -2.24 L128.55 -4.48 L128.55 -7.28 L127.97 -9.52 L127.39 -10.64 M124.50 -11.76 L123.35 -11.20 L122.77 -10.08 L122.19 -7.28 L122.19 -4.48 L122.77 -1.68 L123.35 -0.56 L124.50 0.00 M125.66 0.00 L126.81 -0.56 L127.39 -1.68 L127.97 -4.48 L127.97 -7.28 L127.39 -10.08 L126.81 -11.20 L125.66 -11.76 M133.46 -1.68 L132.94 -1.12 L132.94 -0.56 L133.46 0.00 L133.98 0.00 L134.50 -0.56 L134.50 -1.12 L133.98 -1.68 L133.46 -1.68 M133.46 -1.12 L133.46 -0.56 L133.98 -0.56 L133.98 -1.12 L133.46 -1.12 M144.67 -10.08 L144.67 -9.52 L145.25 -9.52 L145.25 -10.08 L144.67 -10.08 M145.25 -10.64 L144.67 -10.64 L144.10 -10.08 L144.10 -9.52 L144.67 -8.96 L145.25 -8.96 L145.83 -9.52 L145.83 -10.08 L145.25 -11.20 L144.10 -11.76 L142.36 -11.76 L140.63 -11.20 L139.47 -10.08 L138.89 -8.96 L138.32 -6.72 L138.32 -3.36 L138.89 -1.68 L140.05 -0.56 L141.78 0.00 L142.94 0.00 L144.67 -0.56 L145.83 -1.68 L146.41 -3.36 L146.41 -3.92 L145.83 -5.60 L144.67 -6.72 L142.94 -7.28 L141.78 -7.28 L140.63 -6.72 L140.05 -6.16 L139.47 -5.04 M140.05 -10.08 L139.47 -8.96 L138.89 -6.72 L138.89 -3.36 L139.47 -1.68 L140.05 -1.12 M145.25 -1.68 L145.83 -2.80 L145.83 -4.48 L145.25 -5.60 M142.36 -11.76 L141.21 -11.20 L140.63 -10.64 L140.05 -9.52 L139.47 -7.28 L139.47 -3.36 L140.05 -1.68 L140.63 -0.56 L141.78 0.00 M142.94 0.00 L144.10 -0.56 L144.67 -1.12 L145.25 -2.80 L145.25 -4.48 L144.67 -6.16 L144.10 -6.72 L142.94 -7.28 M151.78 -0.56 L151.26 0.00 L150.74 0.00 L150.22 -0.56 L150.22 -1.12 L150.74 -1.68 L151.26 -1.68 L151.78 -1.12 L151.78 0.56 L151.26 1.68 L150.22 2.24 M150.74 -1.12 L150.74 -0.56 L151.26 -0.56 L151.26 -1.12 L150.74 -1.12 M151.26 0.00 L151.78 0.56 M151.78 -0.56 L151.26 1.68 M159.07 -11.76 L157.33 -11.20 L156.18 -9.52 L155.60 -6.72 L155.60 -5.04 L156.18 -2.24 L157.33 -0.56 L159.07 0.00 L160.22 0.00 L161.96 -0.56 L163.11 -2.24 L163.69 -5.04 L163.69 -6.72 L163.11 -9.52 L161.96 -11.20 L160.22 -11.76 L159.07 -11.76 M157.33 -10.64 L156.75 -9.52 L156.18 -7.28 L156.18 -4.48 L156.75 -2.24 L157.33 -1.12 M161.96 -1.12 L162.53 -2.24 L163.11 -4.48 L163.11 -7.28 L162.53 -9.52 L161.96 -10.64 M159.07 -11.76 L157.91 -11.20 L157.33 -10.08 L156.75 -7.28 L156.75 -4.48 L157.33 -1.68 L157.91 -0.56 L159.07 0.00 M160.22 0.00 L161.38 -0.56 L161.96 -1.68 L162.53 -4.48 L162.53 -7.28 L161.96 -10.08 L161.38 -11.20 L160.22 -11.76 M168.02 -1.68 L167.50 -1.12 L167.50 -0.56 L168.02 0.00 L168.54 0.00 L169.06 -0.56 L169.06 -1.12 L168.54 -1.68 L168.02 -1.68 M168.02 -1.12 L168.02 -0.56 L168.54 -0.56 L168.54 -1.12 L168.02 -1.12 M176.35 -11.76 L174.61 -11.20 L173.46 -9.52 L172.88 -6.72 L172.88 -5.04 L173.46 -2.24 L174.61 -0.56 L176.35 0.00 L177.50 0.00 L179.24 -0.56 L180.39 -2.24 L180.97 -5.04 L180.97 -6.72 L180.39 -9.52 L179.24 -11.20 L177.50 -11.76 L176.35 -11.76 M174.61 -10.64 L174.04 -9.52 L173.46 -7.28 L173.46 -4.48 L174.04 -2.24 L174.61 -1.12 M179.24 -1.12 L179.82 -2.24 L180.39 -4.48 L180.39 -7.28 L179.82 -9.52 L179.24 -10.64 M176.35 -11.76 L175.19 -11.20 L174.61 -10.08 L174.04 -7.28 L174.04 -4.48 L174.61 -1.68 L175.19 -0.56 L176.35 0.00 M177.50 0.00 L178.66 -0.56 L179.24 -1.68 L179.82 -4.48 L179.82 -7.28 L179.24 -10.08 L178.66 -11.20 L177.50 -11.76" transform="translate(161.90 646.80)" fill="none" stroke="#0000ff" stroke-width="1.85" stroke-linecap="round" stroke-linejoin="round"/>
</svg>
</body></html>
